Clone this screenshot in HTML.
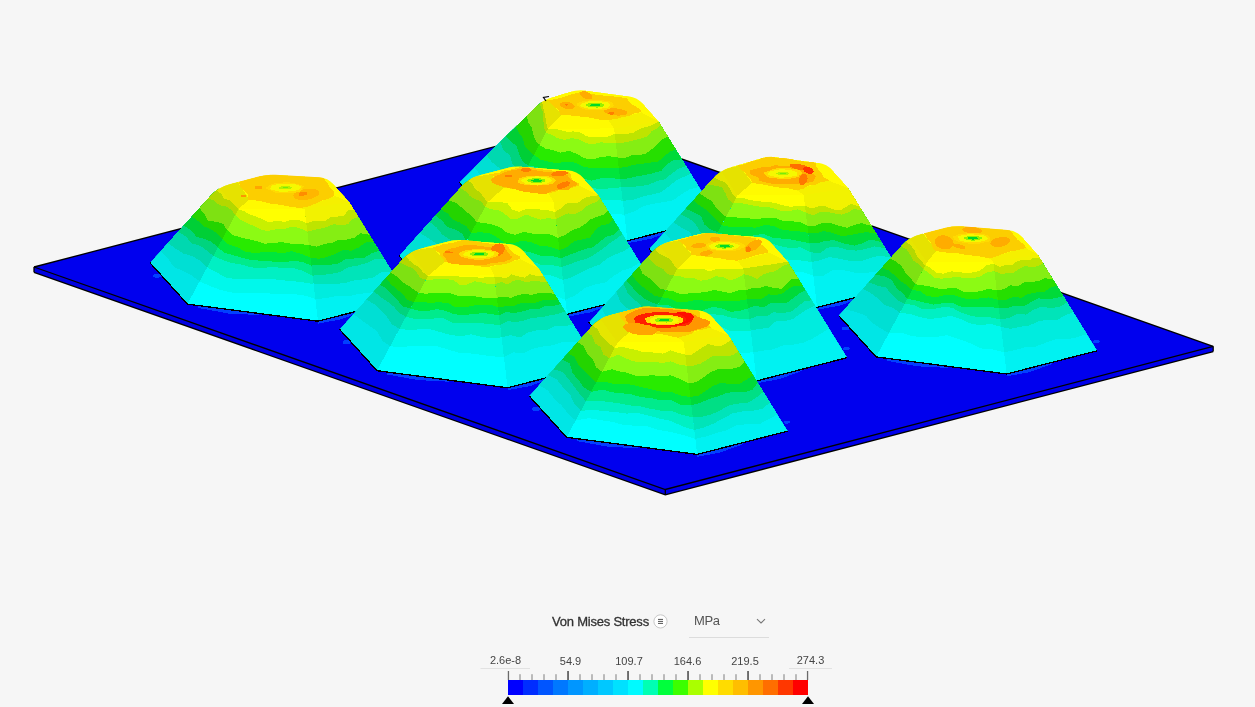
<!DOCTYPE html><html><head><meta charset="utf-8"><title>Von Mises Stress</title><style>
html,body{margin:0;padding:0;background:#f6f6f6;}body{width:1255px;height:707px;position:relative;overflow:hidden;font-family:"Liberation Sans",sans-serif;}
.t{position:absolute;white-space:nowrap;line-height:1;}
.lb{font-size:11px;color:#444;transform:translate(-50%,-50%);}
</style></head><body>
<svg width="1255" height="707" viewBox="0 0 1255 707" style="position:absolute;left:0;top:0">
<g shape-rendering="crispEdges">
<polygon points="34.0,267.0 665.3,489.5 665.3,494.8 34.0,272.3" fill="#0000e2" />
<polygon points="665.3,489.5 1213.2,346.3 1213.2,351.6 665.3,494.8" fill="#0000ea" />
<polygon points="34.0,267.0 581.9,123.8 1213.2,346.3 665.3,489.5" fill="#0000ee" />
</g>
<polyline points="34.0,267.0 581.9,123.8 1213.2,346.3" fill="none" stroke="#000" stroke-width="1.3" />
<polyline points="34.0,267.0 665.3,489.5 1213.2,346.3" fill="none" stroke="#000" stroke-width="1.3" />
<polyline points="34.0,272.3 665.3,494.8 1213.2,351.6" fill="none" stroke="#000" stroke-width="1.3" />
<polyline points="34.0,267.0 34.0,272.3" fill="none" stroke="#000" stroke-width="1.3" />
<polyline points="665.3,489.5 665.3,494.8" fill="none" stroke="#000" stroke-width="1.3" />
<polyline points="1213.2,346.3 1213.2,351.6" fill="none" stroke="#000" stroke-width="1.3" />
<g shape-rendering="crispEdges">
<polygon points="507.3,225.1 568.7,233.1 568.7,234.7 538.0,233.1 507.3,227.5" fill="#0040ff" />
<polygon points="627.5,240.8 672.9,229.2 672.9,230.8 650.2,239.0 627.5,243.2" fill="#0040ff" />
<ellipse cx="717.2" cy="208.5" rx="3.5" ry="1.5" fill="#0040ff"/>
<ellipse cx="466.4" cy="195.3" rx="4" ry="2" fill="#0040ff"/>
<polygon points="696.9,291.7 758.3,299.7 758.3,301.3 727.6,299.7 696.9,294.1" fill="#0040ff" />
<polygon points="817.1,307.4 862.5,295.8 862.5,297.4 839.8,305.6 817.1,309.8" fill="#0040ff" />
<ellipse cx="906.8" cy="275.1" rx="3.5" ry="1.5" fill="#0040ff"/>
<ellipse cx="656.0" cy="261.9" rx="4" ry="2" fill="#0040ff"/>
<polygon points="446.9,298.6 508.3,306.6 508.3,308.2 477.6,306.6 446.9,301.0" fill="#0040ff" />
<polygon points="567.1,314.3 612.5,302.6 612.5,304.2 589.8,312.5 567.1,316.7" fill="#0040ff" />
<ellipse cx="656.8" cy="282.0" rx="3.5" ry="1.5" fill="#0040ff"/>
<ellipse cx="406.0" cy="268.8" rx="4" ry="2" fill="#0040ff"/>
<polygon points="197.8,305.5 259.2,313.5 259.2,315.1 228.5,313.5 197.8,307.9" fill="#0040ff" />
<polygon points="318.0,321.2 363.4,309.6 363.4,311.2 340.7,319.4 318.0,323.6" fill="#0040ff" />
<ellipse cx="407.7" cy="288.9" rx="3.5" ry="1.5" fill="#0040ff"/>
<ellipse cx="156.9" cy="275.7" rx="4" ry="2" fill="#0040ff"/>
<polygon points="886.5,358.3 947.9,366.3 947.9,367.9 917.2,366.3 886.5,360.7" fill="#0040ff" />
<polygon points="1006.7,374.0 1052.0,362.4 1052.0,364.0 1029.4,372.2 1006.7,376.4" fill="#0040ff" />
<ellipse cx="1096.4" cy="341.7" rx="3.5" ry="1.5" fill="#0040ff"/>
<ellipse cx="845.6" cy="328.5" rx="4" ry="2" fill="#0040ff"/>
<polygon points="636.5,365.2 697.9,373.2 697.9,374.8 667.2,373.2 636.5,367.6" fill="#0040ff" />
<polygon points="756.7,380.9 802.1,369.2 802.1,370.9 779.4,379.1 756.7,383.3" fill="#0040ff" />
<ellipse cx="846.4" cy="348.6" rx="3.5" ry="1.5" fill="#0040ff"/>
<ellipse cx="595.6" cy="335.4" rx="4" ry="2" fill="#0040ff"/>
<polygon points="387.4,372.1 448.8,380.1 448.8,381.7 418.1,380.1 387.4,374.5" fill="#0040ff" />
<polygon points="507.6,387.8 553.0,376.1 553.0,377.8 530.3,386.0 507.6,390.2" fill="#0040ff" />
<ellipse cx="597.3" cy="355.5" rx="3.5" ry="1.5" fill="#0040ff"/>
<ellipse cx="346.5" cy="342.3" rx="4" ry="2" fill="#0040ff"/>
<polygon points="577.0,438.7 638.4,446.7 638.4,448.3 607.7,446.7 577.0,441.1" fill="#0040ff" />
<polygon points="697.2,454.4 742.6,442.8 742.6,444.4 719.9,452.6 697.2,456.8" fill="#0040ff" />
<ellipse cx="786.9" cy="422.1" rx="3.5" ry="1.5" fill="#0040ff"/>
<ellipse cx="536.1" cy="408.9" rx="4" ry="2" fill="#0040ff"/>
</g>
<g shape-rendering="crispEdges">
<clipPath id="cpP2"><path d="M459.4,182.3 L496.9,223.7 L627.5,240.8 L718.2,217.5 L661.1,125.1 Q659.0,121.7 656.3,118.7 L643.3,104.1 Q637.3,97.4 628.4,96.2 L585.7,90.5 Q577.8,89.4 570.1,91.7 L554.2,96.6 Q541.8,100.4 532.6,109.6 Z"/></clipPath>
<g clip-path="url(#cpP2)">
<polygon points="459.4,182.3 496.9,223.7 547.9,128.9 541.8,100.4" fill="#00e6e6" />
<polygon points="474.4,167.4 480.7,175.3 490.2,179.2 496.9,185.9 503.3,193.0 510.6,198.3 547.9,128.9 541.8,100.4" fill="#00dfd4" />
<polygon points="486.7,155.2 492.2,162.5 499.3,167.9 504.3,175.6 510.8,181.0 517.9,184.7 547.9,128.9 541.8,100.4" fill="#00d8b0" />
<polygon points="500.2,141.7 503.3,150.2 509.7,154.9 512.6,163.9 517.5,170.1 524.4,172.6 547.9,128.9 541.8,100.4" fill="#00d47e" />
<polygon points="506.0,136.0 510.9,141.7 516.8,146.0 519.1,154.7 522.8,161.7 528.2,165.5 547.9,128.9 541.8,100.4" fill="#00cf36" />
<polygon points="515.8,126.3 518.9,132.8 523.0,138.3 524.8,146.7 529.6,150.7 533.9,154.9 547.9,128.9 541.8,100.4" fill="#24d400" />
<polygon points="526.8,115.3 528.3,122.4 531.6,127.6 533.3,134.7 535.8,140.7 539.3,144.9 547.9,128.9 541.8,100.4" fill="#7ee112" />
<polygon points="539.6,102.6 541.1,108.2 543.4,112.9 543.4,120.4 544.0,127.5 546.0,132.4 547.9,128.9 541.8,100.4" fill="#b4d800" />
<polygon points="541.8,100.4 543.0,106.1 544.2,111.8 545.4,117.6 546.4,123.6 547.9,128.9 547.9,128.9 541.8,100.4" fill="#e6e600" />
<polygon points="496.9,223.7 627.5,240.8 614.1,128.4 547.9,128.9" fill="#00ffff" />
<polygon points="510.6,198.3 521.5,200.5 532.8,201.9 543.7,204.7 556.0,203.0 567.6,202.7 578.3,208.3 589.6,211.8 601.3,213.4 612.8,213.8 624.4,214.7 614.1,128.4 547.9,128.9" fill="#00f8eb" />
<polygon points="517.9,184.7 527.0,188.6 536.5,192.5 547.1,194.2 559.0,190.9 569.4,192.8 579.5,197.6 590.3,200.7 601.2,200.0 612.0,200.1 622.7,200.6 614.1,128.4 547.9,128.9" fill="#00f0c3" />
<polygon points="524.4,172.6 533.0,175.4 541.5,179.6 551.0,181.7 561.7,179.7 571.6,180.3 580.8,186.3 591.0,188.0 601.1,189.1 611.2,188.2 621.1,187.3 614.1,128.4 547.9,128.9" fill="#00eb8c" />
<polygon points="528.2,165.5 536.9,167.1 545.0,170.5 553.8,172.9 564.2,169.8 573.1,172.3 581.8,178.1 591.4,180.6 601.1,178.1 610.6,177.9 620.1,179.1 614.1,128.4 547.9,128.9" fill="#00e63c" />
<polygon points="533.9,154.9 540.4,159.5 548.4,161.7 556.8,163.3 566.2,161.6 574.8,162.6 583.2,166.6 592.0,168.4 601.0,167.7 610.0,167.9 618.8,168.0 614.1,128.4 547.9,128.9" fill="#28eb00" />
<polygon points="539.3,144.9 545.4,148.6 552.9,150.1 560.2,152.7 568.9,150.9 576.5,153.6 584.1,158.2 592.5,159.5 601.0,156.9 609.2,156.3 617.6,157.5 614.1,128.4 547.9,128.9" fill="#8cfa14" />
<polygon points="546.0,132.4 551.7,135.0 557.5,138.1 564.2,139.9 572.1,138.1 579.1,139.3 585.9,143.2 593.4,144.1 600.9,142.2 608.4,143.1 615.9,143.4 614.1,128.4 547.9,128.9" fill="#c8f000" />
<polygon points="547.9,128.9 554.5,128.9 560.7,130.0 566.8,131.9 573.7,131.4 580.3,132.5 586.7,136.2 593.7,137.5 600.9,136.8 608.0,136.7 614.7,133.8 614.1,128.4 547.9,128.9" fill="#ffff00" />
<polygon points="627.5,240.8 718.2,217.5 659.0,121.7 614.1,128.4" fill="#00f2f2" />
<polygon points="624.4,214.7 634.3,211.4 643.5,206.0 653.4,203.7 663.4,202.1 673.4,200.2 681.6,194.2 689.8,189.2 699.3,187.0 659.0,121.7 614.1,128.4" fill="#00ecdf" />
<polygon points="622.7,200.6 632.3,200.3 641.4,196.8 650.8,194.7 660.1,192.5 668.1,187.1 675.3,181.1 683.2,177.1 691.2,173.8 659.0,121.7 614.1,128.4" fill="#00e4b9" />
<polygon points="621.1,187.3 630.0,187.1 639.0,186.2 648.0,185.0 656.2,181.3 664.8,179.2 671.8,173.7 678.6,168.7 686.4,166.0 659.0,121.7 614.1,128.4" fill="#00df85" />
<polygon points="620.1,179.1 628.5,178.4 636.7,176.4 645.1,175.0 653.3,173.1 661.4,170.8 667.2,164.0 673.9,160.1 682.2,159.3 659.0,121.7 614.1,128.4" fill="#00da39" />
<polygon points="618.8,168.0 626.5,166.9 634.0,164.7 641.9,163.9 649.6,162.6 657.7,161.8 663.8,156.9 669.4,151.8 675.9,149.1 659.0,121.7 614.1,128.4" fill="#26df00" />
<polygon points="617.6,157.5 625.0,158.0 631.9,155.2 639.3,155.1 646.4,153.3 652.3,148.9 657.5,143.6 662.5,139.2 668.2,136.6 659.0,121.7 614.1,128.4" fill="#85ee13" />
<polygon points="615.9,143.4 622.4,142.9 628.7,141.5 635.0,140.1 641.2,138.4 647.2,136.3 651.6,131.4 656.7,128.6 660.7,124.5 659.0,121.7 614.1,128.4" fill="#bee400" />
<polygon points="614.7,133.8 620.8,133.9 626.9,133.7 633.0,133.0 638.2,129.8 643.5,127.6 649.1,126.2 654.2,124.0 659.0,121.7 659.0,121.7 614.1,128.4" fill="#f2f200" />
<polygon points="541.8,100.4 547.9,128.9 614.1,128.4 659.0,121.7 637.3,97.4 577.8,89.4" fill="#fffa00" />
<polygon points="541.8,100.4 547.9,128.9 561.7,114.5 548.2,100.4" fill="#e6e200" />
<polygon points="614.1,128.4 659.0,121.7 641.4,112.4 608.7,120.4" fill="#f5f000" />
<polygon points="547.5,100.3 550.5,103.2 553.1,106.0 557.5,108.8 559.3,111.7 560.5,114.8 571.5,115.5 580.9,116.6 590.1,117.7 599.5,119.6 608.4,120.0 615.7,119.1 622.1,117.3 629.4,115.9 633.1,113.7 640.5,112.3 640.7,109.7 636.0,106.8 631.7,104.0 629.2,101.3 626.8,98.5 618.9,96.9 608.8,96.1 599.5,95.2 590.4,93.9 580.5,92.0 573.9,93.7 567.9,95.6 562.1,97.4 556.4,99.1" fill="#fcce00" />
<polygon points="595.3,105.1 595.3,105.1 595.3,105.1 595.3,105.1 595.3,105.1 595.3,105.1 595.3,105.1 595.3,105.1 595.3,105.1 595.3,105.1 595.3,105.1 595.3,105.1 595.3,105.1 595.3,105.1 595.3,105.1 595.3,105.1 595.3,105.1 595.3,105.1 595.3,105.1 595.3,105.1 595.3,105.1 595.3,105.1 595.3,105.1 595.3,105.1 595.3,105.1 595.3,105.1 595.3,105.1 595.3,105.1 595.3,105.1 595.3,105.1 595.3,105.1 595.3,105.1 595.3,105.1 595.3,105.1 595.3,105.1 595.3,105.1 595.3,105.1 595.3,105.1 595.3,105.1 595.3,105.1 595.3,105.1 595.3,105.1 595.3,105.1 595.3,105.1 595.3,105.1 595.3,105.1 595.3,105.1 595.3,105.1" fill="#fcce00" />
<ellipse cx="567.3" cy="105.5" rx="7.5" ry="3.5" fill="#ffac00" transform="rotate(10 567.3 105.5)"/>
<ellipse cx="586.3" cy="95.3" rx="6.5" ry="3.5" fill="#ffac00" transform="rotate(25 586.3 95.3)"/>
<ellipse cx="615.7" cy="111.9" rx="12" ry="3.5" fill="#ffac00" transform="rotate(5 615.7 111.9)"/>
<ellipse cx="611.3" cy="113.4" rx="3" ry="1.3" fill="#ff7d00" transform="rotate(0 611.3 113.4)"/>
<ellipse cx="566.3" cy="104.6" rx="1.8" ry="1" fill="#ff7d00" transform="rotate(0 566.3 104.6)"/>
<polygon points="578.2,103.0 577.1,103.5 576.8,104.1 576.5,104.8 577.3,105.6 578.3,106.3 579.6,107.0 580.3,107.7 581.3,108.4 582.6,109.0 584.9,109.5 587.5,110.0 590.6,110.3 593.6,110.3 596.2,110.1 598.4,109.9 600.4,110.0 602.4,109.9 604.7,109.9 606.7,109.6 608.8,109.3 609.9,108.7 610.9,108.2 611.3,107.6 611.9,107.1 612.6,106.7 613.4,106.1 613.7,105.4 613.4,104.6 612.9,103.9 612.4,103.1 611.6,102.3 610.4,101.6 608.2,101.1 605.6,100.7 602.9,100.3 600.0,100.0 597.0,99.9 594.4,100.0 592.1,100.1 590.2,100.3 588.6,100.5 586.8,100.7 584.9,101.0 583.0,101.2 581.6,101.7 580.4,102.2 579.2,102.6" fill="#ffda00" />
<polygon points="582.0,103.5 581.2,103.8 580.9,104.3 580.4,104.9 580.1,105.5 580.2,106.2 581.2,106.8 582.9,107.3 584.6,107.6 586.1,108.0 587.6,108.4 589.5,108.8 591.7,109.0 594.0,109.1 596.0,109.1 597.7,108.9 599.1,108.7 600.4,108.6 601.9,108.5 603.6,108.4 605.0,108.1 606.4,107.9 607.7,107.5 608.6,107.2 609.0,106.8 609.5,106.4 609.9,105.9 610.2,105.3 610.0,104.7 609.5,104.1 609.1,103.4 608.5,102.8 607.4,102.3 605.7,101.9 603.5,101.6 601.2,101.4 598.9,101.2 596.6,101.3 594.6,101.2 592.8,101.2 591.1,101.1 589.7,101.3 588.3,101.5 587.2,101.9 586.1,102.2 585.0,102.5 583.9,102.8 582.7,103.1" fill="#f6f800" />
<polygon points="586.7,104.1 586.4,104.3 586.1,104.6 586.0,105.0 586.0,105.3 586.5,105.7 587.0,106.0 587.7,106.3 588.4,106.6 589.3,106.8 590.4,107.1 591.7,107.2 593.1,107.3 594.5,107.4 595.8,107.5 596.9,107.5 597.9,107.5 598.8,107.3 599.6,107.2 600.5,107.0 601.3,106.9 602.1,106.7 602.7,106.5 603.3,106.3 603.6,106.1 603.9,105.8 604.1,105.6 604.2,105.2 604.2,104.9 604.1,104.5 603.7,104.2 603.2,103.8 602.4,103.5 601.3,103.3 600.1,103.2 598.8,103.0 597.4,102.9 596.1,102.8 594.8,102.8 593.7,102.7 592.7,102.7 591.8,102.8 590.9,102.9 590.0,103.1 589.1,103.3 588.4,103.5 587.7,103.7 587.2,103.9" fill="#96f000" />
<polygon points="590.5,104.6 590.3,104.7 590.1,104.8 590.0,105.0 590.0,105.2 590.2,105.4 590.5,105.6 590.8,105.8 591.3,105.9 591.8,106.1 592.5,106.2 593.2,106.3 594.0,106.3 594.8,106.4 595.6,106.4 596.2,106.4 596.8,106.3 597.3,106.3 597.8,106.2 598.3,106.2 598.8,106.1 599.2,106.0 599.6,105.9 599.9,105.7 600.1,105.6 600.3,105.5 600.5,105.4 600.6,105.2 600.6,105.0 600.4,104.8 600.1,104.6 599.8,104.4 599.3,104.3 598.8,104.1 598.1,104.0 597.4,103.9 596.6,103.9 595.8,103.8 595.0,103.8 594.4,103.8 593.8,103.9 593.3,103.9 592.8,104.0 592.3,104.0 591.8,104.1 591.4,104.2 591.0,104.3 590.7,104.5" fill="#00da28" />
</g>
<polyline points="459.4,182.3 496.9,223.7 627.5,240.8 718.2,217.5" fill="none" stroke="#000" stroke-width="1.3" />
<clipPath id="cpP4"><path d="M649.0,248.9 L686.5,290.3 L817.1,307.4 L907.8,284.1 L850.7,191.7 Q848.6,188.3 845.9,185.3 L832.9,170.7 Q826.9,164.0 818.0,162.8 L776.3,157.1 Q768.4,156.0 760.7,158.2 L732.9,166.4 Q720.4,170.0 711.7,179.6 Z"/></clipPath>
<g clip-path="url(#cpP4)">
<polygon points="649.0,248.9 686.5,290.3 737.5,195.5 720.4,170.0" fill="#00e6e6" />
<polygon points="664.2,232.1 670.7,239.8 679.0,245.3 685.7,252.5 693.1,258.6 699.3,266.4 737.5,195.5 720.4,170.0" fill="#00dfd4" />
<polygon points="673.3,222.0 680.9,227.5 689.3,231.4 694.6,239.3 699.6,247.7 706.2,253.7 737.5,195.5 720.4,170.0" fill="#00d8b0" />
<polygon points="680.5,214.0 688.5,218.1 695.2,223.3 699.9,231.3 706.3,236.7 712.0,242.9 737.5,195.5 720.4,170.0" fill="#00d47e" />
<polygon points="685.3,208.8 693.5,212.1 700.9,215.7 704.5,224.5 710.6,229.5 717.7,232.4 737.5,195.5 720.4,170.0" fill="#00cf36" />
<polygon points="693.5,199.8 699.1,205.2 705.7,209.3 711.0,214.8 716.3,219.9 721.5,225.3 737.5,195.5 720.4,170.0" fill="#24d400" />
<polygon points="699.4,193.2 705.6,197.4 711.7,201.2 715.9,207.4 720.7,212.7 726.1,216.8 737.5,195.5 720.4,170.0" fill="#7ee112" />
<polygon points="707.2,184.6 715.1,185.7 722.0,187.2 725.4,193.2 728.5,199.7 733.3,203.3 737.5,195.5 720.4,170.0" fill="#b4d800" />
<polygon points="713.5,177.6 719.5,180.3 725.5,182.6 729.1,187.6 732.3,193.4 736.3,197.7 737.5,195.5 720.4,170.0" fill="#e6e600" />
<polygon points="686.5,290.3 817.1,307.4 803.7,195.0 737.5,195.5" fill="#00ffff" />
<polygon points="699.3,266.4 710.4,268.6 721.6,270.4 733.5,270.9 746.1,267.6 757.8,265.8 768.5,269.6 779.5,273.6 790.8,272.6 801.9,271.8 813.3,275.5 803.7,195.0 737.5,195.5" fill="#00f8eb" />
<polygon points="706.2,253.7 716.6,255.1 727.1,256.5 738.6,254.7 749.7,253.0 760.3,252.0 770.4,253.2 780.4,258.0 790.8,260.2 801.2,260.5 811.7,262.1 803.7,195.0 737.5,195.5" fill="#00f0c3" />
<polygon points="712.0,242.9 721.1,245.4 731.2,245.9 741.8,244.6 752.0,243.6 761.9,243.5 771.5,243.6 781.0,246.3 790.7,248.3 800.4,247.3 810.5,252.2 803.7,195.0 737.5,195.5" fill="#00eb8c" />
<polygon points="717.7,232.4 726.0,234.6 734.2,238.0 744.0,237.7 754.1,235.1 763.6,234.0 772.2,237.6 781.4,238.6 790.7,239.5 800.0,241.2 809.5,243.3 803.7,195.0 737.5,195.5" fill="#00e63c" />
<polygon points="721.5,225.3 729.6,226.8 738.3,227.5 747.2,227.3 756.0,227.6 765.2,224.9 773.6,226.0 781.9,229.6 790.6,230.7 799.4,231.4 808.2,232.8 803.7,195.0 737.5,195.5" fill="#28eb00" />
<polygon points="726.1,216.8 734.1,217.2 741.9,218.1 750.0,218.5 758.2,218.7 766.5,218.1 774.6,217.7 782.4,220.6 790.6,221.4 798.8,221.7 807.3,225.6 803.7,195.0 737.5,195.5" fill="#8cfa14" />
<polygon points="733.3,203.3 740.7,203.0 747.3,204.3 754.0,205.8 761.1,206.8 768.5,207.0 775.6,209.1 782.9,211.4 790.5,210.9 798.0,209.3 805.8,212.6 803.7,195.0 737.5,195.5" fill="#c8f000" />
<polygon points="736.3,197.7 743.0,197.8 749.0,199.9 755.6,201.0 762.4,201.7 769.4,202.1 776.3,203.2 783.3,205.4 790.5,206.9 797.7,205.5 805.0,205.9 803.7,195.0 737.5,195.5" fill="#ffff00" />
<polygon points="817.1,307.4 907.8,284.1 848.6,188.3 803.7,195.0" fill="#00f2f2" />
<polygon points="813.3,275.5 823.4,275.7 832.6,270.2 842.9,270.1 854.4,272.5 865.6,273.1 876.3,271.4 885.4,266.9 897.3,267.1 848.6,188.3 803.7,195.0" fill="#00ecdf" />
<polygon points="811.7,262.1 820.7,260.0 829.5,257.0 839.6,258.8 850.3,260.9 860.8,261.4 870.0,258.2 879.3,255.6 891.5,257.7 848.6,188.3 803.7,195.0" fill="#00e4b9" />
<polygon points="810.5,252.2 819.6,253.3 827.4,247.8 836.1,246.5 846.4,249.7 856.4,250.7 865.6,249.1 874.3,246.4 885.8,248.4 848.6,188.3 803.7,195.0" fill="#00df85" />
<polygon points="809.5,243.3 817.8,243.0 825.8,240.7 834.3,240.3 844.2,243.5 854.3,245.6 862.9,243.3 870.5,239.5 881.9,242.2 848.6,188.3 803.7,195.0" fill="#00da39" />
<polygon points="808.2,232.8 816.1,233.5 823.6,231.0 832.1,232.7 841.6,236.0 850.0,235.2 858.1,233.4 866.5,232.1 876.7,233.8 848.6,188.3 803.7,195.0" fill="#26df00" />
<polygon points="807.3,225.6 814.8,226.0 821.7,223.0 829.2,222.6 837.9,225.4 847.0,227.8 854.1,224.9 861.6,223.1 872.0,226.1 848.6,188.3 803.7,195.0" fill="#85ee13" />
<polygon points="805.8,212.6 813.0,215.4 819.3,212.5 826.1,211.7 833.7,213.3 841.6,214.6 848.1,212.4 853.8,208.9 862.3,210.5 848.6,188.3 803.7,195.0" fill="#bee400" />
<polygon points="805.0,205.9 811.8,208.4 817.9,206.5 824.3,205.5 832.3,209.3 839.9,210.5 845.6,207.2 850.9,203.7 860.0,206.8 848.6,188.3 803.7,195.0" fill="#f2f200" />
<polygon points="720.4,170.0 737.5,195.5 803.7,195.0 848.6,188.3 826.9,164.0 768.4,156.0" fill="#fffa00" />
<polygon points="720.4,170.0 737.5,195.5 752.2,182.9 739.4,165.7" fill="#e6e200" />
<polygon points="803.7,195.0 848.6,188.3 827.4,180.3 796.6,190.0" fill="#f5f000" />
<polygon points="738.5,165.5 740.4,169.0 745.1,172.6 747.1,176.0 751.3,179.1 751.9,183.0 761.5,184.1 769.7,185.9 778.7,187.5 787.6,188.3 796.8,190.2 803.6,188.7 808.0,185.7 816.0,184.5 821.1,182.2 829.3,180.6 823.1,176.7 821.8,173.4 818.5,170.1 816.4,166.7 815.9,162.7 805.8,161.7 796.7,160.5 788.2,158.2 779.3,158.1 770.9,156.9 763.6,157.6 757.8,159.8 750.7,161.5 745.6,163.8" fill="#fcce00" />
<polygon points="750.3,170.2 750.4,171.3 750.2,172.5 750.4,173.8 752.5,175.2 756.1,176.4 758.5,177.5 759.0,178.8 759.0,180.3 761.6,181.4 765.6,182.3 769.8,183.3 774.7,184.0 779.9,184.4 784.8,184.4 789.0,184.3 793.1,184.5 796.5,184.1 800.5,183.9 804.1,183.2 808.3,182.7 811.8,182.0 814.0,180.9 814.4,179.6 815.1,178.5 815.4,177.5 815.9,176.3 814.3,174.9 812.3,173.6 811.2,172.3 811.1,170.9 810.2,169.4 807.8,168.3 803.8,167.6 799.5,167.0 795.0,166.4 789.9,166.5 785.6,166.3 781.6,166.0 777.6,165.4 774.2,165.5 771.8,166.3 769.0,166.8 765.7,167.1 761.8,167.4 758.9,168.1 755.6,168.7 752.9,169.4" fill="#ffac00" />
<ellipse cx="799.5" cy="167.1" rx="10" ry="2.8" fill="#ff6e00" transform="rotate(10 799.5 167.1)"/>
<ellipse cx="803.3" cy="179.5" rx="4" ry="6" fill="#ff7800" transform="rotate(20 803.3 179.5)"/>
<ellipse cx="808.4" cy="170.3" rx="5.5" ry="3.2" fill="#ff3700" transform="rotate(20 808.4 170.3)"/>
<polygon points="767.1,171.6 765.7,172.0 764.3,172.5 763.8,173.2 764.3,174.0 765.3,174.7 766.1,175.5 766.7,176.3 767.6,177.1 769.4,177.7 772.0,178.2 775.1,178.4 778.2,178.6 781.2,178.7 783.9,178.9 786.3,178.9 788.4,178.8 790.4,178.6 792.3,178.3 794.1,178.0 795.8,177.5 797.5,177.1 798.7,176.6 799.2,176.0 799.1,175.5 799.6,175.0 800.8,174.5 802.3,173.8 802.6,173.0 802.2,172.1 800.9,171.4 799.9,170.5 798.3,169.9 796.5,169.3 793.8,168.8 790.8,168.5 787.6,168.3 784.6,168.3 781.9,168.2 779.5,168.2 777.4,168.3 775.6,168.5 773.9,168.9 772.3,169.3 771.0,169.8 770.1,170.3 769.3,170.8 768.3,171.2" fill="#ffda00" />
<polygon points="769.3,171.8 769.1,172.3 768.9,172.7 768.5,173.3 768.0,173.9 768.0,174.5 768.6,175.2 770.1,175.7 771.6,176.1 773.4,176.4 775.2,176.8 777.2,177.1 779.3,177.5 781.5,177.6 783.7,177.6 785.4,177.4 786.9,177.3 788.2,177.1 789.7,177.0 791.1,176.8 792.4,176.5 793.9,176.2 795.3,176.0 796.6,175.6 797.0,175.2 796.8,174.8 796.7,174.2 796.8,173.7 797.1,173.1 796.8,172.5 796.0,171.9 794.8,171.4 793.8,171.0 792.5,170.5 790.9,170.1 788.7,169.8 786.5,169.6 784.2,169.4 782.1,169.4 780.3,169.4 778.8,169.6 777.4,169.7 776.0,169.9 774.5,170.2 773.5,170.5 772.3,170.9 771.1,171.2 770.1,171.5" fill="#f6f800" />
<polygon points="776.9,172.8 776.7,173.0 776.5,173.2 776.3,173.4 776.2,173.7 776.4,173.9 776.7,174.2 777.3,174.4 777.9,174.6 778.6,174.7 779.4,174.9 780.3,175.0 781.3,175.2 782.3,175.2 783.2,175.2 784.0,175.2 784.7,175.1 785.3,175.0 785.9,174.9 786.5,174.8 787.0,174.7 787.5,174.6 787.9,174.4 788.4,174.3 788.8,174.2 789.1,174.0 789.3,173.8 789.4,173.6 789.4,173.3 789.2,173.1 788.9,172.8 788.3,172.6 787.8,172.4 787.2,172.2 786.6,172.0 785.6,171.9 784.6,171.8 783.5,171.8 782.6,171.8 781.7,171.8 781.0,171.8 780.4,171.9 779.9,172.0 779.3,172.1 778.6,172.2 778.0,172.3 777.5,172.5 777.1,172.6" fill="#b9f000" />
<polygon points="780.5,173.2 780.4,173.3 780.3,173.4 780.3,173.5 780.3,173.6 780.3,173.7 780.5,173.8 780.7,173.8 780.9,173.9 781.2,174.0 781.5,174.0 781.9,174.1 782.3,174.1 782.7,174.1 783.0,174.1 783.4,174.1 783.6,174.1 783.9,174.1 784.1,174.1 784.4,174.0 784.6,174.0 784.9,173.9 785.0,173.9 785.2,173.8 785.3,173.8 785.4,173.7 785.5,173.6 785.5,173.5 785.5,173.4 785.5,173.3 785.3,173.2 785.1,173.2 784.9,173.1 784.6,173.0 784.3,173.0 783.9,172.9 783.5,172.9 783.1,172.9 782.8,172.9 782.4,172.9 782.2,172.9 781.9,172.9 781.7,172.9 781.4,173.0 781.2,173.0 780.9,173.1 780.8,173.1 780.6,173.2" fill="#78eb0a" />
</g>
<polyline points="649.0,248.9 686.5,290.3 817.1,307.4 907.8,284.1" fill="none" stroke="#000" stroke-width="1.3" />
<clipPath id="cpP3"><path d="M399.0,255.8 L436.5,297.2 L567.1,314.3 L657.8,291.0 L600.7,198.6 Q598.6,195.2 595.9,192.2 L582.9,177.6 Q576.9,170.9 567.9,170.2 L522.5,166.6 Q514.5,165.9 506.8,167.9 L481.8,174.4 Q469.2,177.6 460.5,187.3 Z"/></clipPath>
<g clip-path="url(#cpP3)">
<polygon points="399.0,255.8 436.5,297.2 487.5,202.4 469.2,177.6" fill="#00e6e6" />
<polygon points="405.8,248.2 415.1,253.6 422.7,260.6 432.0,264.8 440.0,270.5 446.5,278.5 487.5,202.4 469.2,177.6" fill="#00dfd4" />
<polygon points="419.7,232.8 427.9,237.8 435.5,243.1 442.6,249.0 450.2,253.6 456.6,259.9 487.5,202.4 469.2,177.6" fill="#00d8b0" />
<polygon points="429.5,221.8 436.4,227.3 442.0,234.4 449.1,239.2 456.8,242.5 462.0,249.8 487.5,202.4 469.2,177.6" fill="#00d47e" />
<polygon points="435.2,215.5 442.0,220.4 447.4,227.1 455.4,229.7 462.2,233.6 466.3,241.8 487.5,202.4 469.2,177.6" fill="#00cf36" />
<polygon points="440.8,209.2 447.7,213.5 452.9,219.6 460.0,222.7 466.5,226.3 471.1,232.8 487.5,202.4 469.2,177.6" fill="#24d400" />
<polygon points="448.7,200.4 456.3,202.9 461.7,207.6 467.0,212.2 472.3,216.6 476.9,222.2 487.5,202.4 469.2,177.6" fill="#7ee112" />
<polygon points="460.0,187.9 465.7,191.4 470.1,196.2 475.6,199.3 481.4,201.6 485.1,206.9 487.5,202.4 469.2,177.6" fill="#b4d800" />
<polygon points="467.2,179.8 472.1,183.5 475.2,189.3 480.2,192.5 483.8,197.4 487.5,202.4 487.5,202.4 469.2,177.6" fill="#e6e600" />
<polygon points="436.5,297.2 567.1,314.3 553.7,201.9 487.5,202.4" fill="#00ffff" />
<polygon points="446.5,278.5 458.4,279.7 470.9,279.2 482.3,281.3 492.9,287.1 505.0,287.9 517.2,287.2 529.0,289.2 540.9,291.6 552.9,294.8 565.4,299.8 553.7,201.9 487.5,202.4" fill="#00f8eb" />
<polygon points="456.6,259.9 467.0,261.1 477.3,262.6 487.6,264.5 497.4,269.2 507.9,272.4 519.2,270.6 530.0,271.9 540.8,274.2 551.7,275.6 563.0,279.9 553.7,201.9 487.5,202.4" fill="#00f0c3" />
<polygon points="462.0,249.8 470.8,252.8 480.9,253.5 491.0,254.0 499.5,260.6 509.6,262.6 520.4,260.1 530.6,260.4 540.8,264.8 551.0,264.8 561.5,267.1 553.7,201.9 487.5,202.4" fill="#00eb8c" />
<polygon points="466.3,241.8 474.8,244.3 484.4,244.6 493.3,246.5 501.9,250.8 511.5,252.4 521.5,250.7 531.0,252.6 540.7,255.7 550.5,255.5 560.4,258.3 553.7,201.9 487.5,202.4" fill="#00e63c" />
<polygon points="471.1,232.8 480.3,232.3 488.9,232.9 496.4,236.9 504.0,242.6 513.1,243.3 522.7,240.6 531.6,242.5 540.7,246.2 549.9,246.6 559.5,250.1 553.7,201.9 487.5,202.4" fill="#28eb00" />
<polygon points="476.9,222.2 484.6,223.0 492.1,224.6 499.6,226.9 506.5,232.3 514.7,234.8 523.7,231.8 532.1,233.6 540.6,234.4 549.1,233.9 558.0,237.9 553.7,201.9 487.5,202.4" fill="#8cfa14" />
<polygon points="485.1,206.9 490.9,209.3 497.8,209.9 503.9,213.0 509.9,218.7 517.6,218.9 525.8,214.6 533.0,217.0 540.5,219.7 548.1,218.1 555.8,219.2 553.7,201.9 487.5,202.4" fill="#c8f000" />
<polygon points="487.5,202.4 494.1,202.3 500.7,202.3 507.1,202.9 512.2,209.5 518.8,211.9 526.4,208.8 533.5,208.7 540.5,209.6 547.6,210.2 554.9,211.9 553.7,201.9 487.5,202.4" fill="#ffff00" />
<polygon points="567.1,314.3 657.8,291.0 598.6,195.2 553.7,201.9" fill="#00f2f2" />
<polygon points="565.4,299.8 575.6,295.1 585.1,288.0 595.0,284.5 605.4,282.4 613.9,275.7 622.5,270.5 632.0,267.4 640.1,262.4 598.6,195.2 553.7,201.9" fill="#00ecdf" />
<polygon points="563.0,279.9 572.5,277.0 581.5,272.2 590.3,268.0 599.2,264.8 606.9,258.8 614.9,254.5 623.3,251.5 630.5,246.8 598.6,195.2 553.7,201.9" fill="#00e4b9" />
<polygon points="561.5,267.1 570.2,264.0 578.9,260.9 587.5,258.4 595.5,253.9 602.8,248.8 609.5,243.2 616.4,238.9 622.5,233.9 598.6,195.2 553.7,201.9" fill="#00df85" />
<polygon points="560.4,258.3 568.7,255.2 576.8,252.1 584.8,249.0 593.1,247.3 599.8,241.6 606.4,236.7 614.1,234.7 619.4,228.9 598.6,195.2 553.7,201.9" fill="#00da39" />
<polygon points="559.5,250.1 567.3,247.0 574.3,241.2 582.1,239.4 589.8,237.8 595.2,230.3 601.0,225.4 608.3,224.1 613.2,218.9 598.6,195.2 553.7,201.9" fill="#26df00" />
<polygon points="558.0,237.9 565.2,235.0 571.8,230.3 578.8,228.0 585.1,224.1 590.7,219.3 596.9,216.8 603.3,214.9 608.1,210.6 598.6,195.2 553.7,201.9" fill="#85ee13" />
<polygon points="555.8,219.2 561.9,216.0 567.9,213.4 574.8,214.3 580.6,211.4 585.5,206.9 590.7,203.8 596.3,202.0 600.2,197.8 598.6,195.2 553.7,201.9" fill="#bee400" />
<polygon points="554.9,211.9 560.6,208.5 565.7,203.7 571.5,202.6 577.7,203.0 582.4,199.2 587.4,196.9 593.0,196.0 598.6,195.2 598.6,195.2 553.7,201.9" fill="#f2f200" />
<polygon points="469.2,177.6 487.5,202.4 553.7,201.9 598.6,195.2 576.9,170.9 514.5,165.9" fill="#fffa00" />
<polygon points="469.2,177.6 487.5,202.4 504.0,187.7 491.3,174.2" fill="#e6e200" />
<polygon points="553.7,201.9 598.6,195.2 579.2,185.6 548.4,193.2" fill="#f5f000" />
<polygon points="489.3,173.9 494.2,176.9 495.7,179.6 498.9,182.3 500.0,185.2 504.3,187.6 512.5,188.9 522.3,189.5 530.7,190.9 539.3,191.6 548.4,193.3 554.8,191.9 560.0,189.9 566.9,188.7 573.8,187.3 578.5,185.5 578.5,183.1 572.5,180.2 571.1,177.6 570.7,174.6 568.0,171.8 557.6,171.0 548.3,170.2 539.8,169.0 531.0,167.8 522.3,166.7 516.1,168.2 510.1,169.7 502.4,170.8 499.2,173.0" fill="#fcce00" />
<polygon points="495.2,176.2 494.1,177.5 491.5,178.9 491.4,180.7 492.1,182.6 496.0,184.5 499.9,186.0 505.3,187.1 509.4,188.1 513.7,188.8 517.3,190.0 521.6,191.2 527.0,192.1 532.6,192.8 538.3,193.6 543.7,193.9 548.1,193.4 550.5,191.8 553.2,190.7 557.3,190.3 563.0,190.3 568.0,189.8 570.3,188.6 571.4,187.3 573.8,186.3 576.2,185.3 577.6,183.8 576.2,182.2 572.8,180.5 570.3,178.9 568.6,177.4 568.2,175.6 565.4,174.3 561.9,173.1 556.0,172.6 550.6,171.8 544.7,171.7 539.5,170.9 534.2,169.9 528.6,168.9 523.3,168.6 518.9,169.0 514.9,169.9 510.4,170.6 506.8,171.7 503.2,172.8 500.4,174.0 498.3,175.2" fill="#ffac00" />
<ellipse cx="525.8" cy="169.8" rx="5" ry="2" fill="#ff7d00" transform="rotate(0 525.8 169.8)"/>
<ellipse cx="559.6" cy="173.6" rx="8.5" ry="2.6" fill="#ff7d00" transform="rotate(-5 559.6 173.6)"/>
<ellipse cx="563.4" cy="185.1" rx="7" ry="3" fill="#ff7d00" transform="rotate(-20 563.4 185.1)"/>
<ellipse cx="508.6" cy="176.1" rx="4" ry="0.9" fill="#ff7d00" transform="rotate(0 508.6 176.1)"/>
<polygon points="519.2,178.5 518.3,179.0 518.6,179.6 518.2,180.3 518.1,181.1 517.7,181.9 518.5,182.8 519.8,183.5 521.9,184.0 523.9,184.5 526.3,185.0 529.2,185.3 532.2,185.4 535.0,185.4 537.5,185.5 539.7,185.4 541.6,185.4 543.4,185.3 545.4,185.1 547.3,184.9 549.1,184.5 551.1,184.2 552.6,183.8 553.9,183.3 554.2,182.7 554.8,182.2 555.2,181.6 555.8,180.9 555.6,180.1 555.0,179.3 554.0,178.5 552.7,177.8 551.5,177.1 549.7,176.6 547.4,176.0 544.3,175.7 541.2,175.5 538.3,175.6 535.7,175.7 533.5,175.7 531.5,175.7 529.5,175.8 527.7,176.0 525.9,176.4 524.6,176.8 523.1,177.2 521.8,177.7 520.1,178.0" fill="#ffda00" />
<polygon points="523.2,179.0 522.3,179.3 521.7,179.8 521.2,180.4 521.4,181.0 522.1,181.6 523.2,182.2 524.1,182.8 525.0,183.3 526.2,183.8 528.1,184.2 530.4,184.5 532.8,184.7 535.2,184.9 537.4,184.8 539.3,184.7 540.8,184.6 542.3,184.5 544.0,184.4 545.4,184.1 546.5,183.7 547.1,183.2 548.0,182.9 548.9,182.5 550.2,182.3 551.0,181.9 551.5,181.4 551.5,180.8 551.8,180.2 551.5,179.6 550.6,178.9 549.3,178.4 547.9,178.0 546.6,177.5 544.6,177.2 542.5,176.9 540.2,176.7 538.0,176.4 535.8,176.4 534.0,176.6 532.6,176.8 531.2,176.9 529.5,177.0 527.9,177.1 526.7,177.5 525.8,177.9 525.1,178.3 524.1,178.6" fill="#f6f800" />
<polygon points="528.2,179.6 527.7,179.8 527.4,180.1 527.4,180.5 527.7,180.8 528.1,181.2 528.5,181.5 529.0,181.8 529.6,182.1 530.5,182.4 531.7,182.6 533.1,182.7 534.4,182.9 535.8,183.0 537.1,183.0 538.2,183.0 539.2,182.9 540.1,182.8 540.9,182.7 541.9,182.6 542.7,182.4 543.6,182.2 544.3,182.0 545.0,181.8 545.2,181.6 545.2,181.3 545.2,181.0 545.4,180.7 545.5,180.4 545.5,180.0 545.2,179.6 544.6,179.3 543.8,179.0 542.8,178.8 541.6,178.6 540.3,178.4 538.9,178.3 537.4,178.2 536.1,178.2 535.0,178.2 534.0,178.2 533.1,178.3 532.2,178.5 531.4,178.6 530.6,178.8 529.9,179.0 529.3,179.2 528.7,179.4" fill="#96f000" />
<polygon points="531.8,180.1 531.6,180.2 531.4,180.3 531.3,180.5 531.3,180.7 531.5,180.9 531.8,181.1 532.1,181.3 532.6,181.4 533.1,181.6 533.8,181.7 534.5,181.8 535.3,181.8 536.1,181.9 536.9,181.9 537.5,181.9 538.1,181.8 538.6,181.8 539.1,181.7 539.6,181.7 540.1,181.6 540.5,181.5 540.9,181.4 541.2,181.2 541.4,181.1 541.6,181.0 541.8,180.9 541.9,180.7 541.9,180.5 541.7,180.3 541.4,180.1 541.1,179.9 540.6,179.8 540.1,179.6 539.4,179.5 538.7,179.4 537.9,179.4 537.1,179.3 536.3,179.3 535.7,179.3 535.1,179.4 534.6,179.4 534.1,179.5 533.6,179.5 533.1,179.6 532.7,179.7 532.3,179.8 532.0,180.0" fill="#00da28" />
</g>
<polyline points="399.0,255.8 436.5,297.2 567.1,314.3 657.8,291.0" fill="none" stroke="#000" stroke-width="1.3" />
<clipPath id="cpP1"><path d="M149.9,262.7 L187.4,304.1 L318.0,321.2 L408.7,297.9 L351.6,205.5 Q349.5,202.1 346.8,199.1 L333.8,184.5 Q327.8,177.8 318.8,177.3 L275.3,174.8 Q267.3,174.3 259.6,176.3 L230.4,184.0 Q217.8,187.3 209.1,197.0 Z"/></clipPath>
<g clip-path="url(#cpP1)">
<polygon points="149.9,262.7 187.4,304.1 238.4,209.3 217.8,187.3" fill="#00e6e6" />
<polygon points="160.3,251.1 167.7,258.3 173.9,267.0 183.4,271.0 191.9,275.7 199.7,281.3 238.4,209.3 217.8,187.3" fill="#00dfd4" />
<polygon points="167.6,243.0 175.6,248.6 183.7,253.7 193.1,256.3 200.6,261.2 207.2,267.3 238.4,209.3 217.8,187.3" fill="#00d8b0" />
<polygon points="177.8,231.7 185.7,236.2 191.4,243.2 200.1,245.8 207.0,250.6 213.3,256.0 238.4,209.3 217.8,187.3" fill="#00d47e" />
<polygon points="183.4,225.5 190.7,230.1 196.3,236.5 204.6,239.1 212.0,242.1 217.8,247.5 238.4,209.3 217.8,187.3" fill="#00cf36" />
<polygon points="191.6,216.4 198.1,221.0 203.8,226.3 211.0,229.3 217.2,233.5 222.3,239.2 238.4,209.3 217.8,187.3" fill="#24d400" />
<polygon points="199.2,207.9 204.1,213.6 208.0,220.6 216.0,221.8 223.0,223.7 227.2,230.1 238.4,209.3 217.8,187.3" fill="#7ee112" />
<polygon points="207.8,198.5 214.5,200.8 219.3,205.2 226.2,206.5 231.4,209.8 235.3,215.0 238.4,209.3 217.8,187.3" fill="#b4d800" />
<polygon points="215.3,190.1 220.7,193.2 224.2,198.6 230.2,200.5 234.3,204.9 238.4,209.3 238.4,209.3 217.8,187.3" fill="#e6e600" />
<polygon points="187.4,304.1 318.0,321.2 304.6,208.8 238.4,209.3" fill="#00ffff" />
<polygon points="199.7,281.3 209.7,285.9 220.3,289.9 231.9,292.5 244.2,292.6 256.2,293.2 268.2,293.3 280.0,294.4 291.8,293.9 303.4,295.2 315.4,299.0 304.6,208.8 238.4,209.3" fill="#00f8eb" />
<polygon points="207.2,267.3 216.1,272.0 225.3,277.3 236.1,279.3 247.5,279.1 258.8,279.1 270.0,278.5 280.8,280.3 291.7,280.9 302.6,282.3 313.6,284.1 304.6,208.8 238.4,209.3" fill="#00f0c3" />
<polygon points="213.3,256.0 221.8,259.5 230.8,262.9 240.8,264.4 250.5,267.1 260.7,268.5 271.3,266.8 281.5,267.9 291.6,267.6 301.9,270.6 312.6,275.6 304.6,208.8 238.4,209.3" fill="#00eb8c" />
<polygon points="217.8,247.5 224.9,252.8 233.8,255.3 242.8,258.1 252.2,260.1 262.1,260.8 272.0,261.5 281.8,262.5 291.6,261.1 301.3,261.6 311.4,265.6 304.6,208.8 238.4,209.3" fill="#00e63c" />
<polygon points="222.3,239.2 228.7,244.6 236.9,247.1 244.9,251.4 254.0,253.1 263.7,252.2 273.1,251.8 282.3,253.4 291.6,251.2 300.8,253.7 310.4,257.6 304.6,208.8 238.4,209.3" fill="#28eb00" />
<polygon points="227.2,230.1 233.1,235.2 240.7,237.4 248.7,239.3 256.9,241.3 265.2,243.8 274.2,242.6 282.9,242.4 291.5,243.7 300.2,244.0 308.9,245.2 304.6,208.8 238.4,209.3" fill="#8cfa14" />
<polygon points="235.3,215.0 240.2,219.7 246.3,222.9 253.1,225.5 259.9,229.1 267.5,231.2 275.7,229.3 283.6,229.3 291.4,226.6 299.2,227.9 307.3,231.7 304.6,208.8 238.4,209.3" fill="#c8f000" />
<polygon points="238.4,209.3 244.1,211.2 249.7,214.3 255.9,216.6 262.4,219.1 269.0,222.6 276.8,220.5 284.0,221.9 291.4,220.0 298.7,219.7 306.3,223.2 304.6,208.8 238.4,209.3" fill="#ffff00" />
<polygon points="318.0,321.2 408.7,297.9 349.5,202.1 304.6,208.8" fill="#00f2f2" />
<polygon points="315.4,299.0 325.9,298.2 336.2,296.1 347.4,296.5 357.9,294.0 369.1,293.0 379.6,290.3 388.5,284.5 399.6,283.2 349.5,202.1 304.6,208.8" fill="#00ecdf" />
<polygon points="313.6,284.1 323.3,283.5 333.4,283.7 343.6,283.4 353.2,280.6 363.4,279.3 373.4,277.4 381.7,272.1 392.5,271.6 349.5,202.1 304.6,208.8" fill="#00e4b9" />
<polygon points="312.6,275.6 321.8,274.9 331.2,274.0 340.4,272.0 348.5,267.0 357.8,265.6 366.6,263.0 374.5,259.0 384.5,258.7 349.5,202.1 304.6,208.8" fill="#00df85" />
<polygon points="311.4,265.6 320.0,264.6 329.1,265.0 337.9,263.5 345.8,259.2 354.8,258.4 364.1,257.8 371.4,253.4 379.5,250.6 349.5,202.1 304.6,208.8" fill="#00da39" />
<polygon points="310.4,257.6 319.0,258.8 327.3,256.9 335.2,254.0 342.6,250.0 351.6,250.7 359.1,247.3 365.5,242.5 374.0,241.7 349.5,202.1 304.6,208.8" fill="#26df00" />
<polygon points="308.9,245.2 316.9,246.6 324.3,244.0 331.9,242.8 339.0,239.6 347.0,239.5 354.5,237.8 360.4,233.2 369.6,234.7 349.5,202.1 304.6,208.8" fill="#85ee13" />
<polygon points="307.3,231.7 314.0,229.8 320.7,228.5 327.4,226.9 333.5,224.1 341.2,225.4 348.0,224.1 352.6,219.0 358.8,217.1 349.5,202.1 304.6,208.8" fill="#bee400" />
<polygon points="306.3,223.2 312.5,221.4 318.9,220.6 325.6,220.8 331.1,217.0 337.6,216.5 344.1,216.0 347.9,210.4 354.5,210.2 349.5,202.1 304.6,208.8" fill="#f2f200" />
<polygon points="217.8,187.3 238.4,209.3 304.6,208.8 349.5,202.1 327.8,177.8 267.3,174.3" fill="#fffa00" />
<polygon points="217.8,187.3 238.4,209.3 249.2,199.3 234.6,177.5" fill="#e6e200" />
<polygon points="304.6,208.8 349.5,202.1 335.5,196.1 300.1,208.3" fill="#f5f000" />
<polygon points="234.4,177.5 239.0,182.0 239.9,186.2 244.5,190.5 248.0,194.6 247.9,199.8 259.8,200.9 269.2,203.4 279.8,204.7 290.0,206.7 300.0,208.1 307.9,206.5 315.1,203.9 321.0,200.8 328.7,198.6 334.4,195.9 334.5,191.9 329.5,187.3 327.2,182.9 324.1,178.6 319.5,174.8 310.3,172.7 300.9,170.2 290.4,168.7 280.3,167.6 270.5,166.0 262.1,167.0 254.9,169.7 247.3,172.1 243.1,175.5" fill="#fcce00" />
<polygon points="285.3,187.7 285.3,187.7 285.3,187.7 285.3,187.7 285.3,187.7 285.3,187.7 285.3,187.7 285.3,187.7 285.3,187.7 285.3,187.7 285.3,187.7 285.3,187.7 285.3,187.7 285.3,187.7 285.3,187.7 285.3,187.7 285.3,187.7 285.3,187.7 285.3,187.7 285.3,187.7 285.3,187.7 285.3,187.7 285.3,187.7 285.3,187.7 285.3,187.7 285.3,187.7 285.3,187.7 285.3,187.7 285.3,187.7 285.3,187.7 285.3,187.7 285.3,187.7 285.3,187.7 285.3,187.7 285.3,187.7 285.3,187.7 285.3,187.7 285.3,187.7 285.3,187.7 285.3,187.7 285.3,187.7 285.3,187.7 285.3,187.7 285.3,187.7 285.3,187.7 285.3,187.7 285.3,187.7 285.3,187.7" fill="#fcce00" />
<ellipse cx="306.3" cy="194.3" rx="13" ry="5.5" fill="#ffb600" transform="rotate(-8 306.3 194.3)"/>
<ellipse cx="303.1" cy="193.7" rx="4.5" ry="2" fill="#ff8c00" transform="rotate(-10 303.1 193.7)"/>
<ellipse cx="258.5" cy="187.7" rx="4" ry="1.6" fill="#ffa500" transform="rotate(0 258.5 187.7)"/>
<ellipse cx="243.9" cy="196.0" rx="3" ry="1.2" fill="#ff9600" transform="rotate(0 243.9 196.0)"/>
<polygon points="269.1,185.7 268.3,186.2 267.2,186.7 266.4,187.4 266.0,188.2 266.7,189.0 268.4,189.7 270.4,190.3 271.8,190.8 273.0,191.5 274.4,192.3 277.1,192.9 280.4,193.1 283.6,193.0 286.2,192.8 288.5,192.7 290.5,192.6 292.6,192.7 294.9,192.7 297.1,192.4 298.8,191.9 299.9,191.3 300.9,190.8 301.4,190.2 301.8,189.7 301.7,189.2 302.1,188.6 302.8,188.0 303.6,187.2 303.7,186.4 302.6,185.6 300.8,185.0 298.9,184.5 297.0,184.1 295.0,183.6 292.7,183.0 290.1,182.5 287.1,182.3 284.3,182.3 282.0,182.6 280.0,182.6 278.0,182.7 276.1,182.9 274.5,183.4 273.0,183.9 271.5,184.3 270.4,184.8 269.6,185.2" fill="#ffda00" />
<polygon points="271.6,186.0 271.2,186.4 271.0,186.9 270.5,187.5 270.2,188.1 270.3,188.8 271.0,189.4 272.5,189.9 274.1,190.3 275.6,190.7 277.3,191.1 279.3,191.5 281.7,191.7 284.0,191.7 286.0,191.6 287.8,191.5 289.2,191.4 290.7,191.4 292.3,191.3 293.8,191.1 294.9,190.7 296.1,190.4 297.1,190.0 298.3,189.7 298.9,189.4 299.2,188.9 299.5,188.5 300.1,187.9 300.8,187.3 300.7,186.6 300.0,185.9 298.6,185.4 297.2,184.9 295.6,184.5 293.8,184.1 291.5,183.8 289.1,183.6 286.6,183.6 284.6,183.8 282.8,183.9 281.3,183.9 279.9,184.0 278.5,184.2 276.9,184.4 275.4,184.6 273.6,184.8 272.5,185.2 271.7,185.6" fill="#f6f800" />
<polygon points="279.2,187.0 278.9,187.2 278.9,187.4 278.8,187.6 278.8,187.9 278.8,188.1 279.0,188.4 279.4,188.7 280.0,188.9 280.7,189.0 281.5,189.2 282.6,189.3 283.7,189.4 284.7,189.4 285.6,189.4 286.4,189.4 287.1,189.4 287.8,189.3 288.4,189.2 289.0,189.1 289.7,189.0 290.1,188.8 290.5,188.7 290.9,188.5 291.3,188.4 291.5,188.2 291.6,188.0 291.6,187.8 291.7,187.5 291.6,187.3 291.5,187.0 290.9,186.8 290.3,186.6 289.6,186.4 288.8,186.3 287.9,186.1 286.9,186.0 285.9,186.0 285.0,186.0 284.1,186.0 283.5,186.1 282.9,186.1 282.3,186.2 281.7,186.3 281.1,186.4 280.5,186.6 280.0,186.7 279.6,186.9" fill="#b9f000" />
<polygon points="282.9,187.4 282.8,187.5 282.7,187.6 282.7,187.7 282.7,187.8 282.7,187.9 282.9,188.0 283.1,188.0 283.3,188.1 283.6,188.2 283.9,188.2 284.3,188.3 284.7,188.3 285.1,188.3 285.4,188.3 285.8,188.3 286.0,188.3 286.3,188.3 286.5,188.3 286.8,188.2 287.0,188.2 287.3,188.1 287.4,188.1 287.6,188.0 287.7,188.0 287.8,187.9 287.9,187.8 287.9,187.7 287.9,187.6 287.9,187.5 287.7,187.4 287.5,187.4 287.3,187.3 287.0,187.2 286.7,187.2 286.3,187.1 285.9,187.1 285.5,187.1 285.2,187.1 284.8,187.1 284.6,187.1 284.3,187.1 284.1,187.1 283.8,187.2 283.6,187.2 283.3,187.3 283.2,187.3 283.0,187.4" fill="#78eb0a" />
</g>
<polyline points="149.9,262.7 187.4,304.1 318.0,321.2 408.7,297.9" fill="none" stroke="#000" stroke-width="1.3" />
<clipPath id="cpP7"><path d="M838.6,315.5 L876.1,356.9 L1006.7,374.0 L1097.4,350.7 L1040.3,258.3 Q1038.2,254.9 1035.5,251.9 L1022.5,237.3 Q1016.5,230.6 1007.5,229.9 L962.1,226.3 Q954.1,225.7 946.4,227.6 L921.4,234.1 Q908.8,237.3 900.1,247.0 Z"/></clipPath>
<g clip-path="url(#cpP7)">
<polygon points="838.6,315.5 876.1,356.9 927.1,262.1 908.8,237.3" fill="#00e6e6" />
<polygon points="844.3,309.2 855.8,311.9 865.7,315.6 872.6,323.1 880.7,328.4 888.9,333.0 927.1,262.1 908.8,237.3" fill="#00dfd4" />
<polygon points="862.8,288.6 871.0,293.2 878.2,298.6 884.6,305.0 893.1,307.8 899.8,312.9 927.1,262.1 908.8,237.3" fill="#00d8b0" />
<polygon points="868.4,282.3 877.3,285.5 886.3,287.7 891.6,294.5 897.5,300.4 904.6,303.9 927.1,262.1 908.8,237.3" fill="#00d47e" />
<polygon points="875.2,274.7 884.8,276.3 891.8,280.2 896.2,287.6 902.1,292.8 907.4,298.7 927.1,262.1 908.8,237.3" fill="#00cf36" />
<polygon points="881.8,267.4 889.2,270.8 895.1,275.7 900.6,281.0 906.7,285.1 912.1,290.0 927.1,262.1 908.8,237.3" fill="#24d400" />
<polygon points="890.0,258.3 896.5,261.8 901.9,266.5 905.7,273.4 910.8,278.2 915.2,284.3 927.1,262.1 908.8,237.3" fill="#7ee112" />
<polygon points="900.9,246.1 906.6,249.4 910.3,255.1 913.8,261.1 919.2,264.2 923.3,269.1 927.1,262.1 908.8,237.3" fill="#b4d800" />
<polygon points="905.1,241.4 910.3,245.0 914.3,249.7 917.0,256.4 921.1,261.0 925.3,265.4 927.1,262.1 908.8,237.3" fill="#e6e600" />
<polygon points="876.1,356.9 1006.7,374.0 993.3,261.6 927.1,262.1" fill="#00ffff" />
<polygon points="888.9,333.0 901.1,332.7 911.6,336.1 923.1,337.2 934.9,337.3 946.9,335.1 957.8,338.8 969.0,342.7 980.5,348.4 992.2,349.4 1004.1,352.3 993.3,261.6 927.1,262.1" fill="#00f8eb" />
<polygon points="899.8,312.9 909.8,313.9 919.0,317.0 928.9,318.8 939.6,318.2 950.4,315.6 960.1,318.8 970.0,323.2 980.4,325.5 990.6,323.8 1001.1,326.9 993.3,261.6 927.1,262.1" fill="#00f0c3" />
<polygon points="904.6,303.9 913.9,305.0 922.1,309.0 931.9,309.4 942.3,307.2 951.9,307.6 960.9,312.6 970.5,315.5 980.3,317.5 990.2,317.4 1000.2,319.3 993.3,261.6 927.1,262.1" fill="#00eb8c" />
<polygon points="907.4,298.7 916.0,300.4 924.6,302.6 933.5,304.6 943.4,303.1 952.7,303.1 961.5,306.8 970.9,307.5 980.3,307.4 989.5,306.8 998.9,308.4 993.3,261.6 927.1,262.1" fill="#00e63c" />
<polygon points="912.1,290.0 920.2,291.2 927.1,296.0 935.8,297.2 945.4,294.9 954.2,295.1 962.5,298.2 971.4,299.3 980.2,298.4 988.9,297.4 997.9,299.8 993.3,261.6 927.1,262.1" fill="#28eb00" />
<polygon points="915.2,284.3 923.0,285.4 930.8,286.7 938.5,288.6 947.0,288.5 955.5,288.0 963.3,291.6 971.8,292.2 980.2,291.2 988.4,288.9 996.7,290.5 993.3,261.6 927.1,262.1" fill="#8cfa14" />
<polygon points="923.3,269.1 928.7,272.9 934.2,277.7 941.7,278.7 949.7,277.8 957.5,276.6 964.9,278.5 972.5,278.2 980.1,276.5 987.3,272.2 994.4,271.1 993.3,261.6 927.1,262.1" fill="#c8f000" />
<polygon points="925.3,265.4 930.9,268.2 936.2,272.7 943.2,273.7 951.2,271.4 958.4,271.8 965.5,273.3 972.9,272.4 980.1,270.7 986.9,264.9 993.6,264.0 993.3,261.6 927.1,262.1" fill="#ffff00" />
<polygon points="1006.7,374.0 1097.4,350.7 1038.2,254.9 993.3,261.6" fill="#00f2f2" />
<polygon points="1004.1,352.3 1014.4,350.2 1024.6,347.4 1035.4,346.7 1045.3,342.9 1055.1,339.4 1066.5,339.4 1077.1,337.2 1087.1,334.0 1038.2,254.9 993.3,261.6" fill="#00ecdf" />
<polygon points="1001.1,326.9 1010.7,328.8 1019.9,326.8 1029.3,325.5 1037.8,321.6 1046.9,319.5 1057.2,319.9 1065.1,315.3 1073.5,312.1 1038.2,254.9 993.3,261.6" fill="#00e4b9" />
<polygon points="1000.2,319.3 1008.9,318.2 1016.9,313.8 1026.1,314.6 1033.7,309.6 1041.7,306.7 1051.7,308.2 1060.3,306.5 1067.4,302.1 1038.2,254.9 993.3,261.6" fill="#00df85" />
<polygon points="998.9,308.4 1007.1,308.2 1015.0,305.7 1023.8,306.5 1031.0,302.0 1038.2,298.2 1047.5,299.5 1055.7,298.0 1063.6,296.0 1038.2,254.9 993.3,261.6" fill="#00da39" />
<polygon points="997.9,299.8 1005.7,300.0 1013.0,297.0 1021.3,297.7 1028.2,294.0 1035.8,292.5 1043.9,292.0 1050.1,287.8 1057.1,285.4 1038.2,254.9 993.3,261.6" fill="#26df00" />
<polygon points="996.7,290.5 1003.9,289.2 1010.4,285.3 1018.0,286.3 1024.1,282.3 1031.5,282.0 1038.7,281.1 1044.9,278.3 1053.1,279.1 1038.2,254.9 993.3,261.6" fill="#85ee13" />
<polygon points="994.4,271.1 1001.2,273.9 1007.6,273.2 1014.0,272.5 1019.4,268.8 1024.9,265.9 1032.0,267.1 1038.3,266.2 1043.3,263.2 1038.2,254.9 993.3,261.6" fill="#bee400" />
<polygon points="993.6,264.0 1000.0,266.8 1005.7,265.0 1011.9,265.3 1016.8,261.3 1022.4,259.9 1028.9,260.5 1033.7,257.7 1040.2,258.1 1038.2,254.9 993.3,261.6" fill="#f2f200" />
<polygon points="908.8,237.3 927.1,262.1 993.3,261.6 1038.2,254.9 1016.5,230.6 954.1,225.7" fill="#fffa00" />
<polygon points="908.8,237.3 927.1,262.1 936.4,250.4 921.4,231.6" fill="#e6e200" />
<polygon points="993.3,261.6 1038.2,254.9 1025.0,247.6 988.7,258.1" fill="#f5f000" />
<polygon points="921.1,231.6 926.1,235.5 927.3,239.1 931.2,242.8 932.2,246.8 935.0,250.8 945.7,252.5 957.5,253.3 967.7,255.2 978.1,256.0 989.0,258.5 996.6,256.4 1003.0,253.8 1009.8,251.6 1018.9,249.9 1026.3,247.8 1023.4,243.9 1018.0,240.1 1014.9,236.4 1012.0,232.8 1008.8,229.2 998.2,227.9 988.5,226.3 978.6,224.2 968.2,222.8 957.1,220.4 950.7,223.4 944.2,225.8 934.3,226.9 930.6,230.0" fill="#fcce00" />
<polygon points="972.9,238.2 972.9,238.2 972.9,238.2 972.9,238.2 972.9,238.2 972.9,238.2 972.9,238.2 972.9,238.2 972.9,238.2 972.9,238.2 972.9,238.2 972.9,238.2 972.9,238.2 972.9,238.2 972.9,238.2 972.9,238.2 972.9,238.2 972.9,238.2 972.9,238.2 972.9,238.2 972.9,238.2 972.9,238.2 972.9,238.2 972.9,238.2 972.9,238.2 972.9,238.2 972.9,238.2 972.9,238.2 972.9,238.2 972.9,238.2 972.9,238.2 972.9,238.2 972.9,238.2 972.9,238.2 972.9,238.2 972.9,238.2 972.9,238.2 972.9,238.2 972.9,238.2 972.9,238.2 972.9,238.2 972.9,238.2 972.9,238.2 972.9,238.2 972.9,238.2 972.9,238.2 972.9,238.2 972.9,238.2" fill="#fcce00" />
<ellipse cx="944.2" cy="242.4" rx="9.5" ry="7" fill="#ffac00" transform="rotate(10 944.2 242.4)"/>
<ellipse cx="1000.3" cy="242.0" rx="10" ry="4.8" fill="#ffac00" transform="rotate(-10 1000.3 242.0)"/>
<ellipse cx="972.3" cy="230.2" rx="10" ry="3.2" fill="#ffac00" transform="rotate(5 972.3 230.2)"/>
<ellipse cx="958.9" cy="246.2" rx="7" ry="2" fill="#ffac00" transform="rotate(15 958.9 246.2)"/>
<polygon points="954.5,235.9 953.3,236.4 952.9,237.1 953.1,237.9 953.7,238.7 954.4,239.5 955.3,240.3 956.3,241.1 958.1,241.7 960.3,242.1 962.7,242.6 965.2,243.1 968.1,243.5 971.1,243.6 973.9,243.6 976.4,243.7 978.6,243.7 980.6,243.4 982.2,243.0 983.9,242.6 985.7,242.2 987.8,241.9 989.1,241.4 989.9,240.9 989.8,240.3 989.9,239.7 990.3,239.1 990.5,238.5 990.3,237.8 989.6,237.0 988.8,236.3 987.8,235.6 986.5,235.0 984.9,234.5 982.8,234.0 980.2,233.6 977.3,233.4 974.5,233.2 972.0,233.1 969.6,233.1 967.6,233.2 966.0,233.5 963.9,233.6 961.8,233.8 959.7,234.1 958.2,234.5 957.1,235.1 955.8,235.5" fill="#ffda00" />
<polygon points="958.5,236.4 957.9,236.9 957.9,237.4 958.3,238.0 958.6,238.6 958.8,239.2 959.4,239.8 960.1,240.4 961.4,240.9 962.8,241.3 965.0,241.6 967.1,241.9 969.4,242.0 971.6,242.1 973.6,242.1 975.4,242.2 977.0,242.1 978.5,242.0 979.7,241.7 981.0,241.4 982.2,241.1 983.5,240.8 984.5,240.5 985.4,240.1 986.3,239.8 986.8,239.4 987.7,239.0 987.8,238.4 987.8,237.8 986.8,237.2 985.9,236.6 984.9,236.1 983.9,235.6 982.6,235.2 980.6,234.9 978.4,234.7 976.2,234.6 974.1,234.5 972.2,234.4 970.4,234.3 968.8,234.3 967.3,234.4 965.9,234.6 964.4,234.8 962.9,235.1 961.6,235.4 960.7,235.8 959.6,236.1" fill="#f6f800" />
<polygon points="964.2,237.2 963.8,237.4 963.5,237.7 963.4,238.1 963.5,238.4 963.9,238.8 964.7,239.1 965.5,239.4 966.2,239.7 966.9,239.9 967.9,240.2 969.2,240.4 970.7,240.5 972.1,240.5 973.3,240.5 974.5,240.5 975.4,240.5 976.3,240.4 977.1,240.3 978.0,240.1 978.9,240.0 979.7,239.8 980.3,239.6 980.7,239.4 981.1,239.1 981.5,238.9 981.9,238.7 982.3,238.3 982.5,238.0 982.3,237.6 981.7,237.2 980.8,236.9 979.9,236.7 978.8,236.5 977.7,236.3 976.4,236.1 975.1,236.0 973.7,235.9 972.4,235.8 971.3,235.8 970.4,235.9 969.6,236.1 968.8,236.2 968.1,236.4 967.2,236.5 966.3,236.6 965.4,236.8 964.7,237.0" fill="#96f000" />
<polygon points="968.1,237.7 967.9,237.8 967.7,237.9 967.6,238.1 967.6,238.3 967.8,238.5 968.1,238.7 968.4,238.9 968.9,239.0 969.4,239.2 970.1,239.3 970.8,239.4 971.6,239.4 972.4,239.5 973.2,239.5 973.8,239.5 974.4,239.4 974.9,239.4 975.4,239.3 975.9,239.3 976.4,239.2 976.8,239.1 977.2,239.0 977.5,238.8 977.7,238.7 977.9,238.6 978.1,238.5 978.2,238.3 978.2,238.1 978.0,237.9 977.7,237.7 977.4,237.5 976.9,237.4 976.4,237.2 975.7,237.1 975.0,237.0 974.2,237.0 973.4,236.9 972.6,236.9 972.0,236.9 971.4,237.0 970.9,237.0 970.4,237.1 969.9,237.1 969.4,237.2 969.0,237.3 968.6,237.4 968.3,237.6" fill="#00da28" />
</g>
<polyline points="838.6,315.5 876.1,356.9 1006.7,374.0 1097.4,350.7" fill="none" stroke="#000" stroke-width="1.3" />
<clipPath id="cpP6"><path d="M588.6,322.4 L626.1,363.8 L756.7,380.9 L847.4,357.6 L790.3,265.2 Q788.2,261.8 785.5,258.8 L772.5,244.2 Q766.5,237.5 757.5,236.8 L712.1,233.2 Q704.1,232.6 696.4,234.5 L671.4,241.0 Q658.8,244.2 650.1,253.9 Z"/></clipPath>
<g clip-path="url(#cpP6)">
<polygon points="588.6,322.4 626.1,363.8 677.1,269.0 658.8,244.2" fill="#00e6e6" />
<polygon points="601.7,307.8 606.2,318.3 614.4,324.4 621.7,331.3 628.3,339.3 636.3,344.8 677.1,269.0 658.8,244.2" fill="#00dfd4" />
<polygon points="616.4,291.4 619.9,301.4 626.7,307.7 634.3,312.4 641.2,317.8 649.1,321.0 677.1,269.0 658.8,244.2" fill="#00d8b0" />
<polygon points="623.6,283.4 627.3,292.4 633.3,298.7 639.8,304.1 645.0,311.6 652.7,314.3 677.1,269.0 658.8,244.2" fill="#00d47e" />
<polygon points="626.4,280.3 631.9,286.7 637.4,293.0 643.8,298.1 650.6,302.1 658.0,304.5 677.1,269.0 658.8,244.2" fill="#00cf36" />
<polygon points="632.0,274.1 636.3,281.3 642.2,286.6 648.6,291.0 654.4,295.8 661.9,297.3 677.1,269.0 658.8,244.2" fill="#24d400" />
<polygon points="639.2,266.1 642.5,273.6 648.7,277.7 654.3,282.3 659.0,288.1 665.8,290.1 677.1,269.0 658.8,244.2" fill="#7ee112" />
<polygon points="647.8,256.5 652.2,261.8 657.2,266.2 663.2,269.0 667.4,274.2 673.6,275.5 677.1,269.0 658.8,244.2" fill="#b4d800" />
<polygon points="654.9,248.5 658.9,253.5 664.5,256.3 669.8,259.1 673.4,264.0 677.1,269.0 677.1,269.0 658.8,244.2" fill="#e6e600" />
<polygon points="626.1,363.8 756.7,380.9 743.3,268.5 677.1,269.0" fill="#00ffff" />
<polygon points="636.3,344.8 647.8,346.7 659.0,349.7 672.2,347.1 684.3,346.8 696.2,345.8 707.8,345.5 719.0,348.2 730.5,351.6 742.0,352.8 753.3,352.4 743.3,268.5 677.1,269.0" fill="#00f8eb" />
<polygon points="649.1,321.0 658.3,324.1 667.7,327.3 678.6,326.7 689.6,325.0 700.2,323.7 710.4,323.5 720.3,326.0 730.4,331.0 740.6,331.0 750.7,330.6 743.3,268.5 677.1,269.0" fill="#00f0c3" />
<polygon points="652.7,314.3 663.1,313.6 672.1,315.9 682.6,314.1 692.2,314.9 701.8,314.8 711.5,314.3 720.9,314.7 730.3,317.3 739.9,319.1 749.4,319.3 743.3,268.5 677.1,269.0" fill="#00eb8c" />
<polygon points="658.0,304.5 667.2,304.8 674.9,308.7 684.3,308.9 693.3,310.4 702.6,310.6 712.4,306.8 721.3,308.2 730.3,311.8 739.4,311.0 748.1,308.4 743.3,268.5 677.1,269.0" fill="#00e63c" />
<polygon points="661.9,297.3 670.0,298.7 677.5,302.0 686.5,301.7 695.8,300.1 704.4,300.6 713.1,300.8 721.7,300.6 730.2,301.3 738.7,300.8 747.0,299.3 743.3,268.5 677.1,269.0" fill="#28eb00" />
<polygon points="665.8,290.1 673.4,291.3 680.5,294.2 689.2,293.4 697.6,292.9 706.0,291.9 714.3,290.1 722.2,291.5 730.2,293.3 738.1,290.5 745.9,290.1 743.3,268.5 677.1,269.0" fill="#8cfa14" />
<polygon points="673.6,275.5 680.4,276.2 686.7,278.3 694.0,278.2 700.6,280.7 708.2,279.5 715.9,276.2 723.0,277.1 730.1,280.4 737.3,278.1 744.0,274.2 743.3,268.5 677.1,269.0" fill="#c8f000" />
<polygon points="677.1,269.0 683.7,268.9 690.3,269.0 697.0,268.9 703.5,269.0 709.7,271.4 716.8,268.7 723.4,268.6 730.1,268.6 736.7,268.6 743.3,268.5 743.3,268.5 677.1,269.0" fill="#ffff00" />
<polygon points="756.7,380.9 847.4,357.6 788.2,261.8 743.3,268.5" fill="#00f2f2" />
<polygon points="753.3,352.4 763.3,350.6 773.5,349.3 783.0,345.3 793.5,344.7 803.6,342.6 812.8,338.5 821.3,333.4 829.2,328.2 788.2,261.8 743.3,268.5" fill="#00ecdf" />
<polygon points="750.7,330.6 759.5,328.8 768.6,328.0 776.0,321.1 785.3,321.2 793.7,318.5 800.8,313.3 807.9,308.9 815.1,305.4 788.2,261.8 743.3,268.5" fill="#00e4b9" />
<polygon points="749.4,319.3 757.3,316.1 765.9,316.5 773.5,312.3 782.5,313.1 790.9,311.8 797.6,306.7 803.9,301.6 811.9,300.1 788.2,261.8 743.3,268.5" fill="#00df85" />
<polygon points="748.1,308.4 755.5,305.6 763.9,307.5 770.7,302.8 779.0,303.1 787.1,302.6 793.4,297.9 799.4,293.4 805.7,290.2 788.2,261.8 743.3,268.5" fill="#00da39" />
<polygon points="747.0,299.3 754.4,299.2 761.9,298.8 768.3,294.4 776.1,295.0 783.3,293.3 788.9,288.4 795.1,285.6 803.3,286.2 788.2,261.8 743.3,268.5" fill="#26df00" />
<polygon points="745.9,290.1 752.4,288.0 759.4,288.2 765.9,285.9 773.7,288.0 781.4,288.8 786.7,283.9 791.6,279.0 798.9,279.1 788.2,261.8 743.3,268.5" fill="#85ee13" />
<polygon points="744.0,274.2 750.3,275.8 757.3,278.9 762.6,274.7 768.4,272.6 774.3,271.5 779.4,268.5 784.1,265.4 789.5,263.8 788.2,261.8 743.3,268.5" fill="#bee400" />
<polygon points="743.3,268.5 748.9,267.7 754.5,266.8 760.1,266.0 765.8,265.1 771.4,264.4 777.0,263.5 782.6,262.6 788.2,261.8 788.2,261.8 743.3,268.5" fill="#f2f200" />
<polygon points="658.8,244.2 677.1,269.0 743.3,268.5 788.2,261.8 766.5,237.5 704.1,232.6" fill="#fffa00" />
<polygon points="658.8,244.2 677.1,269.0 691.9,254.8 678.8,240.3" fill="#e6e200" />
<polygon points="743.3,268.5 788.2,261.8 769.4,252.7 737.6,260.8" fill="#f5f000" />
<polygon points="678.1,240.2 682.1,243.3 685.5,246.1 686.7,249.0 690.9,251.7 691.1,255.1 701.2,256.0 710.3,257.2 719.5,258.2 728.6,259.9 737.6,260.7 743.9,259.1 749.6,257.2 755.3,255.5 761.4,254.0 768.2,252.5 767.8,249.8 764.8,246.9 760.4,244.0 757.3,241.3 755.5,238.4 747.5,236.8 737.6,236.0 728.8,234.6 719.9,233.9 710.2,231.8 704.1,233.7 698.0,235.5 689.9,236.6 685.1,238.7" fill="#fcce00" />
<polygon points="724.7,246.2 724.7,246.2 724.7,246.2 724.7,246.2 724.7,246.2 724.7,246.2 724.7,246.2 724.7,246.2 724.7,246.2 724.7,246.2 724.7,246.2 724.7,246.2 724.7,246.2 724.7,246.2 724.7,246.2 724.7,246.2 724.7,246.2 724.7,246.2 724.7,246.2 724.7,246.2 724.7,246.2 724.7,246.2 724.7,246.2 724.7,246.2 724.7,246.2 724.7,246.2 724.7,246.2 724.7,246.2 724.7,246.2 724.7,246.2 724.7,246.2 724.7,246.2 724.7,246.2 724.7,246.2 724.7,246.2 724.7,246.2 724.7,246.2 724.7,246.2 724.7,246.2 724.7,246.2 724.7,246.2 724.7,246.2 724.7,246.2 724.7,246.2 724.7,246.2 724.7,246.2 724.7,246.2 724.7,246.2" fill="#fcce00" />
<ellipse cx="715.1" cy="239.2" rx="5" ry="2.5" fill="#ffac00" transform="rotate(0 715.1 239.2)"/>
<ellipse cx="698.7" cy="245.6" rx="7.5" ry="2.4" fill="#ffac00" transform="rotate(-5 698.7 245.6)"/>
<ellipse cx="706.2" cy="253.2" rx="6.5" ry="2.6" fill="#ffac00" transform="rotate(-10 706.2 253.2)"/>
<ellipse cx="753.4" cy="245.6" rx="9.5" ry="4.5" fill="#ffac00" transform="rotate(-30 753.4 245.6)"/>
<ellipse cx="748.3" cy="249.4" rx="2.6" ry="3" fill="#ff7d00" transform="rotate(0 748.3 249.4)"/>
<polygon points="706.4,244.0 705.9,244.5 706.3,245.2 706.6,245.9 706.5,246.7 706.6,247.5 707.5,248.3 709.0,248.9 710.9,249.4 712.6,249.9 714.9,250.4 717.5,250.8 720.3,251.0 723.0,251.2 725.6,251.3 727.9,251.1 729.7,251.0 731.4,250.8 733.3,250.6 735.5,250.5 737.6,250.3 739.3,249.8 740.2,249.3 741.0,248.8 741.8,248.3 743.1,247.8 744.0,247.3 744.7,246.5 744.7,245.7 743.9,244.8 742.9,244.0 741.7,243.3 740.0,242.6 737.9,242.1 735.0,241.8 732.1,241.5 729.2,241.2 726.4,241.1 723.7,241.0 721.4,241.1 719.4,241.2 717.5,241.3 715.5,241.5 713.5,241.7 711.9,242.2 710.7,242.7 709.4,243.2 707.8,243.6" fill="#ffda00" />
<polygon points="711.3,244.6 710.3,244.9 709.3,245.4 708.7,245.9 708.8,246.6 709.5,247.3 710.2,247.9 711.4,248.5 712.9,248.9 714.7,249.3 716.6,249.7 718.8,249.9 721.1,250.1 723.4,250.2 725.4,250.3 727.2,250.2 728.6,249.9 729.8,249.7 731.3,249.6 732.9,249.5 734.4,249.2 735.5,248.9 736.4,248.5 737.1,248.1 737.7,247.8 738.1,247.4 738.8,247.0 739.6,246.4 739.8,245.8 739.2,245.2 738.0,244.6 736.8,244.1 735.6,243.7 734.3,243.2 732.5,242.9 730.5,242.5 728.3,242.2 726.1,242.1 723.9,242.0 722.1,242.1 720.6,242.3 719.3,242.5 718.0,242.8 716.4,242.9 714.7,243.1 713.1,243.3 712.2,243.7 711.7,244.2" fill="#f6f800" />
<polygon points="716.5,245.2 716.3,245.5 716.1,245.8 715.7,246.1 715.4,246.4 715.5,246.8 716.0,247.2 716.9,247.5 717.8,247.7 718.7,247.9 719.8,248.2 721.0,248.4 722.5,248.5 723.9,248.6 725.2,248.5 726.2,248.5 727.2,248.4 728.1,248.4 729.1,248.4 730.2,248.3 731.1,248.1 731.7,247.8 732.0,247.6 732.3,247.3 732.7,247.1 733.2,246.9 733.7,246.7 734.0,246.3 734.0,246.0 733.6,245.6 732.9,245.3 732.1,245.0 731.3,244.7 730.5,244.5 729.6,244.2 728.4,244.0 727.0,243.8 725.5,243.8 724.2,243.8 723.1,243.9 722.2,243.9 721.3,244.0 720.3,244.1 719.4,244.2 718.5,244.4 717.8,244.6 717.2,244.8 716.7,245.0" fill="#96f000" />
<polygon points="719.9,245.7 719.7,245.8 719.5,245.9 719.4,246.1 719.4,246.3 719.6,246.5 719.9,246.7 720.2,246.9 720.7,247.0 721.2,247.2 721.9,247.3 722.6,247.4 723.4,247.4 724.2,247.5 725.0,247.5 725.6,247.5 726.2,247.4 726.7,247.4 727.2,247.3 727.7,247.3 728.2,247.2 728.6,247.1 729.0,247.0 729.3,246.8 729.5,246.7 729.7,246.6 729.9,246.5 730.0,246.3 730.0,246.1 729.8,245.9 729.5,245.7 729.2,245.5 728.7,245.4 728.2,245.2 727.5,245.1 726.8,245.0 726.0,245.0 725.2,244.9 724.4,244.9 723.8,244.9 723.2,245.0 722.7,245.0 722.2,245.1 721.7,245.1 721.2,245.2 720.8,245.3 720.4,245.4 720.1,245.6" fill="#00da28" />
</g>
<polyline points="588.6,322.4 626.1,363.8 756.7,380.9 847.4,357.6" fill="none" stroke="#000" stroke-width="1.3" />
<clipPath id="cpP5"><path d="M339.5,329.3 L377.0,370.7 L507.6,387.8 L598.3,364.5 L541.2,272.1 Q539.1,268.7 536.4,265.7 L523.4,251.1 Q517.4,244.4 508.4,243.7 L463.0,240.1 Q455.0,239.4 447.3,241.4 L422.3,247.9 Q409.7,251.1 401.0,260.8 Z"/></clipPath>
<g clip-path="url(#cpP5)">
<polygon points="339.5,329.3 377.0,370.7 428.0,275.9 409.7,251.1" fill="#00e6e6" />
<polygon points="353.3,313.9 361.3,320.0 369.3,325.8 377.2,331.4 382.5,340.8 390.2,346.3 428.0,275.9 409.7,251.1" fill="#00dfd4" />
<polygon points="366.2,299.6 374.3,304.1 380.7,310.3 386.9,316.7 392.1,324.7 399.6,328.6 428.0,275.9 409.7,251.1" fill="#00d8b0" />
<polygon points="373.8,291.1 380.2,296.8 387.2,301.4 393.7,306.5 399.2,312.9 405.9,316.9 428.0,275.9 409.7,251.1" fill="#00d47e" />
<polygon points="379.6,284.6 386.8,288.7 392.0,294.9 397.7,300.5 403.0,306.5 410.5,308.5 428.0,275.9 409.7,251.1" fill="#00cf36" />
<polygon points="385.6,277.9 390.7,283.9 396.4,289.0 402.3,293.6 407.1,299.7 413.9,302.2 428.0,275.9 409.7,251.1" fill="#24d400" />
<polygon points="390.5,272.5 396.7,276.5 401.8,281.7 407.8,285.3 413.4,289.2 418.8,293.0 428.0,275.9 409.7,251.1" fill="#7ee112" />
<polygon points="399.7,262.3 405.7,265.5 411.9,267.9 416.5,272.2 420.1,278.1 426.1,279.5 428.0,275.9 409.7,251.1" fill="#b4d800" />
<polygon points="405.6,255.7 409.6,260.7 414.5,264.5 419.5,267.8 423.3,272.6 428.0,275.9 428.0,275.9 409.7,251.1" fill="#e6e600" />
<polygon points="377.0,370.7 507.6,387.8 494.2,275.4 428.0,275.9" fill="#00ffff" />
<polygon points="390.2,346.3 401.7,347.1 414.2,345.6 425.7,345.9 437.0,346.2 447.7,349.4 458.7,352.6 470.0,353.3 481.3,354.9 492.7,356.4 503.9,356.9 494.2,275.4 428.0,275.9" fill="#00f8eb" />
<polygon points="399.6,328.6 409.6,330.2 420.5,329.2 430.9,329.4 440.5,332.2 450.3,334.9 460.6,336.3 471.1,334.3 481.3,336.9 491.5,338.2 501.6,337.4 494.2,275.4 428.0,275.9" fill="#00f0c3" />
<polygon points="405.9,316.9 414.7,318.9 424.6,318.7 434.3,318.5 443.9,318.4 452.5,322.9 462.1,323.2 471.7,323.4 481.2,323.3 490.6,324.1 500.1,325.1 494.2,275.4 428.0,275.9" fill="#00eb8c" />
<polygon points="410.5,308.5 418.5,310.7 427.6,311.0 437.3,309.1 445.8,310.9 454.1,314.4 463.1,314.7 472.2,314.4 481.1,313.2 490.0,313.7 499.0,315.5 494.2,275.4 428.0,275.9" fill="#00e63c" />
<polygon points="413.9,302.2 422.4,302.4 430.9,302.6 439.4,302.4 447.8,302.7 455.4,307.3 464.0,307.5 472.7,305.6 481.1,304.8 489.4,304.5 498.0,307.1 494.2,275.4 428.0,275.9" fill="#28eb00" />
<polygon points="418.8,293.0 426.4,293.7 434.7,292.8 442.4,293.0 450.1,293.3 457.5,295.6 465.3,296.1 473.2,296.1 481.1,297.4 489.0,298.2 496.9,297.7 494.2,275.4 428.0,275.9" fill="#8cfa14" />
<polygon points="426.1,279.5 432.9,279.5 440.1,278.8 446.7,279.3 453.5,279.8 459.4,284.9 466.6,284.9 474.0,281.3 481.0,282.2 488.1,283.9 495.3,284.3 494.2,275.4 428.0,275.9" fill="#c8f000" />
<polygon points="428.0,275.9 434.6,275.8 441.2,275.8 447.9,275.8 454.5,275.7 460.9,276.9 467.5,277.3 474.3,277.1 481.0,277.8 487.7,277.1 494.4,277.4 494.2,275.4 428.0,275.9" fill="#ffff00" />
<polygon points="507.6,387.8 598.3,364.5 539.1,268.7 494.2,275.4" fill="#00f2f2" />
<polygon points="503.9,356.9 513.3,352.3 523.7,353.3 532.9,348.7 542.6,346.5 552.8,345.3 562.1,342.0 573.2,342.2 584.0,341.4 539.1,268.7 494.2,275.4" fill="#00ecdf" />
<polygon points="501.6,337.4 510.3,335.2 520.1,337.5 528.2,332.4 536.9,330.2 546.7,330.4 554.4,326.0 564.5,326.3 573.5,324.4 539.1,268.7 494.2,275.4" fill="#00e4b9" />
<polygon points="500.1,325.1 507.9,321.2 516.5,322.1 524.7,320.3 532.5,317.6 541.3,317.4 549.4,315.5 557.7,313.9 565.5,311.4 539.1,268.7 494.2,275.4" fill="#00df85" />
<polygon points="499.0,315.5 506.3,311.9 514.5,313.1 522.2,311.5 529.7,309.4 537.9,309.3 544.9,306.0 553.4,305.9 560.9,303.9 539.1,268.7 494.2,275.4" fill="#00da39" />
<polygon points="498.0,307.1 505.3,306.4 512.9,306.4 519.9,303.5 527.5,303.2 535.3,302.9 542.2,300.4 550.1,299.9 558.2,299.6 539.1,268.7 494.2,275.4" fill="#26df00" />
<polygon points="496.9,297.7 503.6,296.5 511.0,297.9 517.5,295.3 524.3,293.9 532.0,294.8 538.8,293.2 546.5,293.3 554.5,293.6 539.1,268.7 494.2,275.4" fill="#85ee13" />
<polygon points="495.3,284.3 501.1,282.0 507.9,284.4 513.3,280.8 519.4,279.8 526.9,282.5 532.7,280.5 540.0,281.5 547.1,281.6 539.1,268.7 494.2,275.4" fill="#bee400" />
<polygon points="494.4,277.4 500.3,277.3 506.5,278.3 511.4,274.2 518.2,276.4 524.9,277.6 529.7,274.1 537.1,276.1 543.3,275.5 539.1,268.7 494.2,275.4" fill="#f2f200" />
<polygon points="409.7,251.1 428.0,275.9 494.2,275.4 539.1,268.7 517.4,244.4 455.0,239.4" fill="#fffa00" />
<polygon points="409.7,251.1 428.0,275.9 445.5,261.3 432.8,247.5" fill="#e6e200" />
<polygon points="494.2,275.4 539.1,268.7 520.7,259.3 489.9,267.0" fill="#f5f000" />
<polygon points="432.7,247.5 435.3,250.3 439.6,253.1 439.7,255.9 443.5,258.5 444.4,261.6 453.3,262.9 463.4,263.5 472.0,265.2 481.2,266.5 489.5,266.6 495.7,265.2 503.3,264.4 509.6,262.7 513.5,260.6 519.5,259.1 519.7,256.6 514.0,253.7 512.0,251.1 509.4,248.4 507.3,245.6 499.0,244.4 489.7,243.6 481.2,242.4 472.3,240.3 463.6,239.8 457.5,241.4 451.8,243.1 443.5,244.0 438.5,245.9" fill="#fcce00" />
<polygon points="445.2,250.7 445.0,251.8 443.1,252.9 443.2,254.4 443.0,255.9 445.1,257.4 445.8,259.1 446.8,260.8 447.8,262.5 451.5,263.8 457.3,264.4 463.6,264.8 469.8,264.9 475.2,265.3 480.2,265.2 484.4,264.9 487.7,264.3 490.1,263.4 493.0,262.9 496.7,262.6 500.5,262.3 504.1,261.7 506.4,260.8 508.5,259.9 511.2,259.2 511.4,258.1 512.0,256.9 510.3,255.5 509.3,254.1 507.6,252.8 507.2,251.3 506.8,249.8 505.2,248.4 501.2,247.5 495.8,247.1 490.5,246.9 485.6,246.7 481.2,246.1 476.7,245.4 472.2,244.8 468.1,244.7 464.8,245.2 461.8,245.9 458.6,246.6 455.8,247.5 452.6,248.2 449.7,249.0 447.4,249.8" fill="#ffac00" />
<ellipse cx="497.6" cy="249.9" rx="7.6" ry="6" fill="#ff7d00" transform="rotate(-30 497.6 249.9)"/>
<ellipse cx="449.1" cy="252.4" rx="4.5" ry="1" fill="#ff7d00" transform="rotate(5 449.1 252.4)"/>
<polygon points="460.6,251.8 459.7,252.4 459.1,253.0 459.1,253.8 459.5,254.6 460.4,255.4 461.0,256.3 462.6,257.0 464.2,257.6 466.5,258.0 468.6,258.6 471.3,259.1 474.1,259.5 477.3,259.7 480.1,259.7 482.6,259.6 484.7,259.4 486.5,259.2 488.2,258.8 490.0,258.4 491.3,257.9 492.8,257.5 494.3,257.1 496.0,256.7 496.9,256.3 497.4,255.7 497.8,255.1 498.5,254.4 498.9,253.6 498.5,252.7 497.2,251.9 495.3,251.3 493.3,250.8 491.2,250.3 488.9,249.9 486.2,249.6 483.5,249.3 480.8,249.0 478.2,249.0 476.0,249.2 474.2,249.4 472.4,249.5 470.3,249.6 468.4,249.8 466.5,250.2 465.2,250.6 463.5,251.0 462.0,251.4" fill="#ffda00" />
<polygon points="465.6,252.4 464.5,252.8 463.8,253.3 463.4,253.8 463.3,254.5 463.8,255.2 464.8,255.8 466.5,256.3 468.2,256.6 469.7,257.0 471.2,257.5 473.0,257.9 475.3,258.2 477.7,258.3 479.9,258.2 481.6,258.0 482.9,257.8 484.2,257.6 485.7,257.5 487.5,257.4 489.1,257.2 490.2,256.9 491.1,256.5 491.7,256.1 492.6,255.8 493.4,255.4 494.0,254.9 494.1,254.3 494.0,253.7 494.1,253.0 493.8,252.3 492.7,251.7 490.8,251.4 488.7,251.1 486.6,250.9 484.6,250.6 482.5,250.4 480.4,250.3 478.4,250.2 476.5,250.1 474.9,250.1 473.5,250.3 472.0,250.5 470.5,250.7 469.1,251.0 468.0,251.3 467.4,251.8 466.4,252.1" fill="#f6f800" />
<polygon points="470.9,253.2 470.3,253.4 469.7,253.6 469.6,254.0 469.7,254.3 470.2,254.7 470.8,255.0 471.5,255.3 472.2,255.6 473.0,255.9 474.0,256.1 475.4,256.3 476.8,256.4 478.3,256.4 479.6,256.4 480.6,256.4 481.5,256.3 482.4,256.2 483.3,256.1 484.3,256.0 485.2,255.9 486.0,255.7 486.5,255.5 487.0,255.3 487.4,255.1 487.9,254.8 488.3,254.6 488.6,254.2 488.5,253.9 488.2,253.5 487.7,253.1 486.9,252.8 486.1,252.6 485.1,252.3 484.0,252.1 482.7,252.0 481.3,251.9 479.9,251.8 478.6,251.8 477.5,251.8 476.6,251.8 475.7,251.9 474.8,252.0 473.9,252.1 473.0,252.3 472.2,252.5 471.7,252.7 471.3,252.9" fill="#96f000" />
<polygon points="474.3,253.6 474.1,253.7 473.9,253.8 473.8,254.0 473.8,254.2 474.0,254.4 474.3,254.6 474.6,254.8 475.1,254.9 475.6,255.1 476.3,255.2 477.0,255.3 477.8,255.3 478.6,255.4 479.4,255.4 480.0,255.4 480.6,255.3 481.1,255.3 481.6,255.2 482.1,255.2 482.6,255.1 483.0,255.0 483.4,254.9 483.7,254.7 483.9,254.6 484.1,254.5 484.3,254.4 484.4,254.2 484.4,254.0 484.2,253.8 483.9,253.6 483.6,253.4 483.1,253.3 482.6,253.1 481.9,253.0 481.2,252.9 480.4,252.9 479.6,252.8 478.8,252.8 478.2,252.8 477.6,252.9 477.1,252.9 476.6,253.0 476.1,253.0 475.6,253.1 475.2,253.2 474.8,253.3 474.5,253.5" fill="#00da28" />
</g>
<polyline points="339.5,329.3 377.0,370.7 507.6,387.8 598.3,364.5" fill="none" stroke="#000" stroke-width="1.3" />
<clipPath id="cpP8"><path d="M529.1,395.9 L566.6,437.3 L697.2,454.4 L787.9,431.1 L730.8,338.7 Q728.7,335.3 726.0,332.3 L713.0,317.7 Q707.0,311.0 698.0,310.3 L652.6,306.7 Q644.6,306.1 636.9,308.0 L611.9,314.5 Q599.3,317.7 590.6,327.4 Z"/></clipPath>
<g clip-path="url(#cpP8)">
<polygon points="529.1,395.9 566.6,437.3 617.6,342.5 599.3,317.7" fill="#00e6e6" />
<polygon points="538.8,385.0 547.8,390.5 554.3,398.7 561.7,405.6 568.2,413.9 575.7,420.4 617.6,342.5 599.3,317.7" fill="#00dfd4" />
<polygon points="547.8,375.1 556.7,379.5 562.9,387.0 569.6,393.6 574.4,403.5 580.8,411.0 617.6,342.5 599.3,317.7" fill="#00d8b0" />
<polygon points="553.1,369.2 562.8,372.0 568.6,379.3 574.3,386.7 579.9,394.4 586.0,401.3 617.6,342.5 599.3,317.7" fill="#00d47e" />
<polygon points="561.9,359.3 569.7,363.5 572.8,373.5 578.6,380.2 584.0,387.6 591.1,391.8 617.6,342.5 599.3,317.7" fill="#00cf36" />
<polygon points="567.7,352.9 574.9,357.2 578.7,365.5 584.7,370.9 590.2,377.2 596.2,382.4 617.6,342.5 599.3,317.7" fill="#24d400" />
<polygon points="577.5,341.9 583.8,346.2 587.3,353.8 592.7,359.0 596.1,367.2 601.9,371.7 617.6,342.5 599.3,317.7" fill="#7ee112" />
<polygon points="586.6,331.8 592.2,335.8 595.1,343.3 600.5,347.2 603.6,354.8 609.3,358.0 617.6,342.5 599.3,317.7" fill="#b4d800" />
<polygon points="592.5,325.3 597.7,329.2 600.8,335.5 605.6,339.6 610.0,344.1 614.6,348.0 617.6,342.5 599.3,317.7" fill="#e6e600" />
<polygon points="566.6,437.3 697.2,454.4 683.8,342.0 617.6,342.5" fill="#00ffff" />
<polygon points="575.7,420.4 589.3,418.2 600.7,420.2 612.3,421.9 623.6,424.9 635.5,425.8 647.5,426.2 659.1,430.1 671.0,431.9 683.0,435.0 695.3,438.8 683.8,342.0 617.6,342.5" fill="#00f8eb" />
<polygon points="580.8,411.0 593.2,409.6 604.1,411.2 615.5,411.9 626.4,413.6 637.9,412.9 648.7,415.7 659.7,418.6 670.9,420.9 682.5,426.4 694.3,430.0 683.8,342.0 617.6,342.5" fill="#00f0c3" />
<polygon points="586.0,401.3 597.4,400.6 607.8,401.9 618.2,403.2 628.5,405.3 639.1,406.1 649.5,408.6 660.2,410.5 670.9,410.6 681.8,414.8 692.8,417.4 683.8,342.0 617.6,342.5" fill="#00eb8c" />
<polygon points="591.1,391.8 602.5,389.5 611.5,392.2 621.3,393.3 631.2,394.1 640.7,397.2 650.8,398.0 660.7,400.4 670.8,399.8 681.1,405.0 691.3,405.2 683.8,342.0 617.6,342.5" fill="#00e63c" />
<polygon points="596.2,382.4 606.0,382.0 614.7,384.1 624.4,383.6 633.5,385.0 642.5,387.3 651.8,389.5 661.2,391.5 670.8,391.8 680.5,395.4 690.4,397.0 683.8,342.0 617.6,342.5" fill="#28eb00" />
<polygon points="601.9,371.7 611.8,369.3 619.6,371.4 627.8,372.9 635.7,375.9 644.6,375.7 653.4,375.3 662.0,376.5 670.7,375.2 679.5,378.9 688.7,383.3 683.8,342.0 617.6,342.5" fill="#8cfa14" />
<polygon points="609.3,358.0 618.6,354.7 624.8,358.0 631.7,360.7 639.1,362.3 647.0,362.4 655.0,362.1 662.8,362.9 670.7,361.3 678.6,364.4 686.6,365.9 683.8,342.0 617.6,342.5" fill="#c8f000" />
<polygon points="614.6,348.0 622.2,346.8 628.5,348.4 635.1,349.8 641.8,351.6 649.0,351.7 656.0,353.1 663.3,353.6 670.6,350.2 677.8,352.7 685.3,354.6 683.8,342.0 617.6,342.5" fill="#ffff00" />
<polygon points="697.2,454.4 787.9,431.1 728.7,335.3 683.8,342.0" fill="#00f2f2" />
<polygon points="695.3,438.8 705.9,436.5 716.3,432.9 726.8,430.2 736.5,425.5 747.4,424.0 759.2,424.2 768.6,419.4 777.5,414.3 728.7,335.3 683.8,342.0" fill="#00ecdf" />
<polygon points="694.3,430.0 704.3,427.3 714.1,423.3 723.4,418.4 732.3,413.5 742.2,411.5 752.7,410.8 762.7,408.7 770.2,402.4 728.7,335.3 683.8,342.0" fill="#00e4b9" />
<polygon points="692.8,417.4 702.5,416.7 712.0,414.2 720.9,410.0 729.4,405.1 738.9,403.5 748.7,402.4 756.6,397.4 763.6,391.8 728.7,335.3 683.8,342.0" fill="#00df85" />
<polygon points="691.3,405.2 700.1,402.8 708.6,399.3 717.1,396.7 725.4,393.5 734.1,391.7 744.0,392.5 752.4,389.9 757.9,382.6 728.7,335.3 683.8,342.0" fill="#00da39" />
<polygon points="690.4,397.0 698.8,395.5 706.5,390.3 713.9,385.5 721.6,382.6 731.0,384.4 739.7,383.5 746.9,379.7 753.2,375.0 728.7,335.3 683.8,342.0" fill="#26df00" />
<polygon points="688.7,383.3 696.5,382.1 703.5,377.4 710.1,372.3 717.0,369.5 724.6,368.6 732.6,368.7 739.7,366.6 744.7,361.3 728.7,335.3 683.8,342.0" fill="#85ee13" />
<polygon points="686.6,365.9 693.6,365.6 700.4,363.7 706.5,360.0 712.4,356.2 719.5,356.2 726.6,356.2 733.4,355.0 738.6,351.3 728.7,335.3 683.8,342.0" fill="#bee400" />
<polygon points="685.3,354.6 691.8,354.7 697.4,350.8 702.9,347.2 708.1,344.0 715.2,345.8 721.6,345.6 726.8,343.0 731.4,339.7 728.7,335.3 683.8,342.0" fill="#f2f200" />
<polygon points="599.3,317.7 617.6,342.5 683.8,342.0 728.7,335.3 707.0,311.0 644.6,306.1" fill="#fffa00" />
<polygon points="599.3,317.7 617.6,342.5 631.9,330.0 618.8,312.6" fill="#e6e200" />
<polygon points="683.8,342.0 728.7,335.3 709.3,327.4 677.6,337.2" fill="#f5f000" />
<polygon points="618.1,312.5 620.2,316.0 622.0,319.5 625.1,323.2 628.3,326.7 633.1,329.6 640.8,331.6 649.9,333.1 659.5,333.7 668.4,335.7 678.1,337.8 684.8,335.8 691.4,333.8 695.3,330.8 703.4,329.4 711.0,327.7 707.4,324.0 703.4,320.4 699.7,317.1 700.3,313.2 697.4,309.6 687.4,308.4 677.7,307.3 668.9,305.2 659.5,303.8 650.2,302.4 644.0,304.6 638.3,307.0 632.1,308.9 625.7,310.8" fill="#fcce00" />
<polygon points="625.1,316.0 625.1,317.4 626.0,318.9 625.6,320.4 627.5,322.0 629.4,323.6 631.5,325.2 632.2,326.9 633.9,328.5 638.3,329.5 644.5,329.9 650.3,330.3 655.5,330.9 660.8,331.6 666.0,332.0 670.6,331.8 675.1,332.1 679.6,332.3 685.0,332.4 689.6,331.8 693.1,330.7 696.6,329.6 700.7,328.7 703.8,327.6 706.6,326.6 707.9,325.2 710.4,323.7 710.4,321.9 707.3,319.9 701.8,318.3 697.7,316.8 695.3,315.3 693.0,313.9 689.9,312.6 685.0,311.6 680.3,310.2 674.0,309.6 667.9,308.9 661.9,308.7 656.2,308.0 650.7,307.6 645.9,307.9 641.2,308.6 636.9,309.7 633.6,311.0 631.1,312.4 628.8,313.7 626.1,314.8" fill="#ff9600" />
<polygon points="637.5,317.0 636.2,317.7 635.2,318.6 634.8,319.7 634.8,320.8 634.6,322.1 635.7,323.3 637.1,324.5 640.2,325.4 643.7,326.1 648.2,326.5 652.5,327.0 656.9,327.6 661.3,328.1 665.7,328.1 669.3,327.8 672.0,327.2 674.4,326.7 677.2,326.5 680.5,326.3 684.0,326.0 686.7,325.4 688.7,324.7 689.9,323.9 690.6,323.2 691.2,322.4 691.5,321.5 692.0,320.5 692.6,319.4 692.5,318.2 692.0,317.0 690.1,315.8 687.6,314.9 684.6,314.1 680.3,313.6 676.0,313.0 671.2,312.8 666.8,312.3 662.6,312.2 658.6,312.0 655.4,312.3 652.4,312.6 649.8,313.1 647.4,313.8 645.6,314.6 643.5,315.3 641.3,315.8 639.3,316.4" fill="#ff2800" />
<ellipse cx="676.1" cy="319.1" rx="18" ry="6.5" fill="#ff0c00" transform="rotate(-8 676.1 319.1)"/>
<ellipse cx="640.1" cy="329.1" rx="17" ry="6" fill="#ffa500" transform="rotate(8 640.1 329.1)"/>
<ellipse cx="660.1" cy="319.1" rx="26" ry="7" fill="#ff1e00" transform="rotate(0 660.1 319.1)"/>
<polygon points="646.3,317.9 645.4,318.4 645.4,319.1 645.5,319.8 646.2,320.6 646.2,321.4 646.5,322.2 647.7,322.9 649.9,323.4 652.3,323.7 654.6,324.2 656.9,324.6 659.6,325.0 662.4,325.2 665.1,325.3 667.5,325.4 669.7,325.4 671.7,325.3 673.5,324.9 675.2,324.5 676.7,324.1 678.5,323.7 679.9,323.2 681.3,322.8 681.9,322.3 682.8,321.8 683.1,321.1 683.4,320.4 683.3,319.6 682.9,318.8 681.9,318.0 680.4,317.3 678.7,316.7 676.7,316.2 674.3,315.7 671.6,315.3 668.7,315.0 665.8,315.0 663.2,315.0 660.9,315.2 658.9,315.2 657.0,315.3 654.9,315.4 653.1,315.7 651.5,316.2 649.9,316.6 648.6,317.0 647.0,317.4" fill="#ffda00" />
<polygon points="651.2,318.5 650.9,318.9 650.4,319.4 649.8,319.9 649.6,320.5 649.6,321.1 650.0,321.8 650.9,322.4 652.2,322.9 654.1,323.2 656.1,323.5 658.3,323.8 660.5,324.0 662.8,324.2 664.9,324.3 666.7,324.2 668.3,324.1 669.6,323.8 671.1,323.7 672.3,323.4 673.9,323.2 675.3,322.9 676.9,322.6 678.0,322.3 678.8,321.9 678.9,321.4 678.7,320.9 678.4,320.3 678.5,319.7 678.7,319.1 678.3,318.4 677.1,317.8 675.6,317.4 674.0,317.0 672.2,316.7 669.9,316.4 667.6,316.3 665.4,316.3 663.4,316.3 661.7,316.4 660.1,316.3 658.7,316.4 657.2,316.6 655.8,316.8 654.4,317.1 653.2,317.4 652.2,317.7 651.5,318.1" fill="#f6f800" />
<polygon points="655.7,319.1 655.3,319.4 655.0,319.6 654.8,320.0 654.8,320.3 654.9,320.7 655.3,321.1 655.9,321.4 656.8,321.7 657.8,321.9 659.0,322.1 660.5,322.3 661.9,322.4 663.3,322.4 664.6,322.4 665.7,322.5 666.7,322.5 667.7,322.4 668.7,322.3 669.7,322.2 670.5,322.0 671.2,321.8 671.7,321.5 672.1,321.3 672.5,321.1 672.9,320.8 673.1,320.6 673.1,320.2 673.0,319.9 672.8,319.5 672.5,319.1 671.9,318.8 671.1,318.6 670.2,318.3 669.1,318.1 667.8,317.9 666.3,317.8 664.9,317.7 663.6,317.7 662.5,317.8 661.5,317.8 660.6,317.8 659.6,317.9 658.8,318.1 658.0,318.3 657.3,318.5 656.6,318.7 656.1,318.9" fill="#96f000" />
<polygon points="659.3,319.6 659.1,319.7 658.9,319.8 658.8,320.0 658.8,320.2 659.0,320.4 659.3,320.6 659.6,320.8 660.1,320.9 660.6,321.1 661.3,321.2 662.0,321.3 662.8,321.3 663.6,321.4 664.4,321.4 665.0,321.4 665.6,321.3 666.1,321.3 666.6,321.2 667.1,321.2 667.6,321.1 668.0,321.0 668.4,320.9 668.7,320.7 668.9,320.6 669.1,320.5 669.3,320.4 669.4,320.2 669.4,320.0 669.2,319.8 668.9,319.6 668.6,319.4 668.1,319.3 667.6,319.1 666.9,319.0 666.2,318.9 665.4,318.9 664.6,318.8 663.8,318.8 663.2,318.8 662.6,318.9 662.1,318.9 661.6,319.0 661.1,319.0 660.6,319.1 660.2,319.2 659.8,319.3 659.5,319.5" fill="#00da28" />
</g>
<polyline points="529.1,395.9 566.6,437.3 697.2,454.4 787.9,431.1" fill="none" stroke="#000" stroke-width="1.3" />
</g>
<polyline points="549.0,96.5 543.5,97.5 546.0,101.0" fill="none" stroke="#000" stroke-width="1.2" />
<g shape-rendering="crispEdges">
<rect x="508" y="680" width="15" height="15" fill="#0000ff"/>
<rect x="523" y="680" width="15" height="15" fill="#002dff"/>
<rect x="538" y="680" width="15" height="15" fill="#0055ff"/>
<rect x="553" y="680" width="15" height="15" fill="#0078ff"/>
<rect x="568" y="680" width="15" height="15" fill="#0096ff"/>
<rect x="583" y="680" width="15" height="15" fill="#00afff"/>
<rect x="598" y="680" width="15" height="15" fill="#00c8ff"/>
<rect x="613" y="680" width="15" height="15" fill="#00e1ff"/>
<rect x="628" y="680" width="15" height="15" fill="#00faff"/>
<rect x="643" y="680" width="15" height="15" fill="#00ffb4"/>
<rect x="658" y="680" width="15" height="15" fill="#00ff3c"/>
<rect x="673" y="680" width="15" height="15" fill="#3cff00"/>
<rect x="688" y="680" width="15" height="15" fill="#aaff00"/>
<rect x="703" y="680" width="15" height="15" fill="#ffff00"/>
<rect x="718" y="680" width="15" height="15" fill="#ffdc00"/>
<rect x="733" y="680" width="15" height="15" fill="#ffbe00"/>
<rect x="748" y="680" width="15" height="15" fill="#ff9600"/>
<rect x="763" y="680" width="15" height="15" fill="#ff6e00"/>
<rect x="778" y="680" width="15" height="15" fill="#ff3700"/>
<rect x="793" y="680" width="15" height="15" fill="#ff0000"/>
</g>
<rect x="507.8" y="671" width="1.3" height="9" fill="#6a6a6a"/>
<rect x="519.2" y="674.2" width="1.6" height="5.8" fill="#ababab"/>
<rect x="531.2" y="674.2" width="1.6" height="5.8" fill="#ababab"/>
<rect x="543.2" y="674.2" width="1.6" height="5.8" fill="#ababab"/>
<rect x="555.2" y="674.2" width="1.6" height="5.8" fill="#ababab"/>
<rect x="567.1" y="671" width="1.9" height="9" fill="#6a6a6a"/>
<rect x="579.2" y="674.2" width="1.6" height="5.8" fill="#ababab"/>
<rect x="591.2" y="674.2" width="1.6" height="5.8" fill="#ababab"/>
<rect x="603.2" y="674.2" width="1.6" height="5.8" fill="#ababab"/>
<rect x="615.2" y="674.2" width="1.6" height="5.8" fill="#ababab"/>
<rect x="627.1" y="671" width="1.9" height="9" fill="#6a6a6a"/>
<rect x="639.2" y="674.2" width="1.6" height="5.8" fill="#ababab"/>
<rect x="651.2" y="674.2" width="1.6" height="5.8" fill="#ababab"/>
<rect x="663.2" y="674.2" width="1.6" height="5.8" fill="#ababab"/>
<rect x="675.2" y="674.2" width="1.6" height="5.8" fill="#ababab"/>
<rect x="687.1" y="671" width="1.9" height="9" fill="#6a6a6a"/>
<rect x="699.2" y="674.2" width="1.6" height="5.8" fill="#ababab"/>
<rect x="711.2" y="674.2" width="1.6" height="5.8" fill="#ababab"/>
<rect x="723.2" y="674.2" width="1.6" height="5.8" fill="#ababab"/>
<rect x="735.2" y="674.2" width="1.6" height="5.8" fill="#ababab"/>
<rect x="747.1" y="671" width="1.9" height="9" fill="#6a6a6a"/>
<rect x="759.2" y="674.2" width="1.6" height="5.8" fill="#ababab"/>
<rect x="771.2" y="674.2" width="1.6" height="5.8" fill="#ababab"/>
<rect x="783.2" y="674.2" width="1.6" height="5.8" fill="#ababab"/>
<rect x="795.2" y="674.2" width="1.6" height="5.8" fill="#ababab"/>
<rect x="806.9" y="671" width="1.3" height="9" fill="#6a6a6a"/>
<polygon points="508,696.3 502,704 514,704" fill="#000"/>
<polygon points="808,696.3 802,704 814,704" fill="#000"/>
<rect x="480.5" y="668" width="49.5" height="1" fill="#e2e2e2"/>
<rect x="789" y="668" width="43" height="1" fill="#e2e2e2"/>
<rect x="689" y="637" width="80" height="1" fill="#dcdcdc"/>
<circle cx="660.5" cy="621.4" r="6.6" fill="#fff" stroke="#c8c8c8" stroke-width="1"/>
<rect x="658" y="618.9" width="5" height="1" fill="#555"/>
<rect x="658" y="620.9" width="5" height="1" fill="#555"/>
<rect x="658" y="622.9" width="5" height="1" fill="#555"/>
<polyline points="757,619.2 761,623 765,619.2" fill="none" stroke="#777" stroke-width="1.1"/>
</svg>
<div class="t" id="ttl" style="left:552px;top:614.5px;font-size:13px;color:#333;letter-spacing:-0.22px;-webkit-text-stroke:0.3px #333;">Von Mises Stress</div>
<div class="t" id="unit" style="left:694px;top:614px;font-size:13px;color:#555;letter-spacing:-0.4px;">MPa</div>
<div class="t lb" style="left:505.5px;top:660.3px;">2.6e-8</div>
<div class="t lb" style="left:570.5px;top:661px;">54.9</div>
<div class="t lb" style="left:629px;top:661px;">109.7</div>
<div class="t lb" style="left:687.5px;top:661px;">164.6</div>
<div class="t lb" style="left:745px;top:661px;">219.5</div>
<div class="t lb" style="left:810.5px;top:660.3px;">274.3</div>
</body></html>
